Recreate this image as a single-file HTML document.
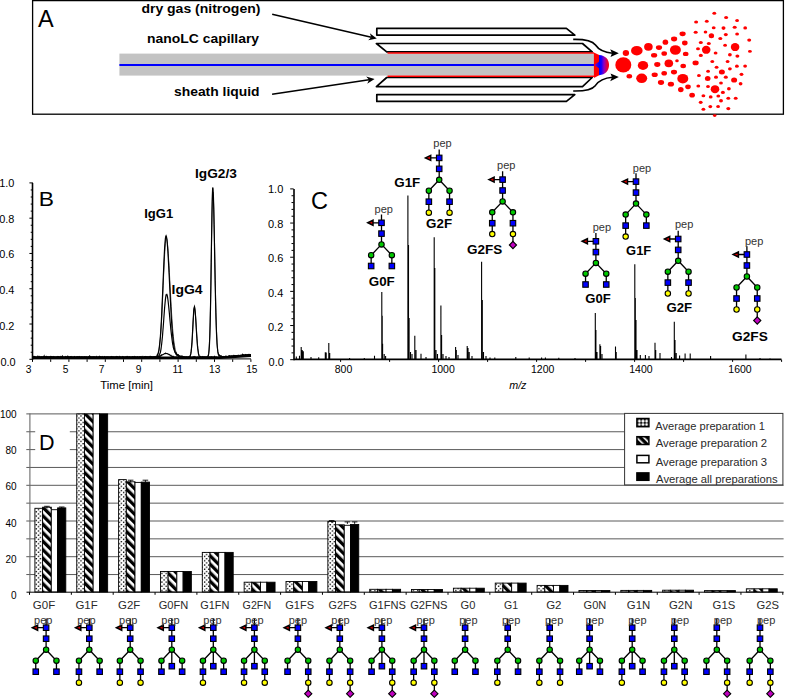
<!DOCTYPE html>
<html><head><meta charset="utf-8"><style>
html,body{margin:0;padding:0;background:#fff;}
svg{display:block;}
text{font-family:"Liberation Sans",sans-serif;}
</style></head><body>
<svg width="785" height="698" viewBox="0 0 785 698">
<rect width="785" height="698" fill="#fff"/>
<rect x="32.6" y="0.6" width="750.8" height="113.6" fill="none" stroke="#000" stroke-width="1.3"/>
<text x="38.0" y="27.1" font-size="23.5" font-weight="normal" text-anchor="start" fill="#000" >A</text>
<text x="141.4" y="12.9" font-size="13" font-weight="bold" text-anchor="start" fill="#000" textLength="119" lengthAdjust="spacingAndGlyphs" >dry gas (nitrogen)</text>
<text x="147.1" y="43.4" font-size="13" font-weight="bold" text-anchor="start" fill="#000" textLength="112" lengthAdjust="spacingAndGlyphs" >nanoLC capillary</text>
<text x="174" y="95.9" font-size="13" font-weight="bold" text-anchor="start" fill="#000" textLength="85.5" lengthAdjust="spacingAndGlyphs" >sheath liquid</text>
<rect x="119.4" y="53.6" width="474.6" height="22" fill="#c3c3c3"/>
<line x1="119.4" y1="65.0" x2="594" y2="65.0" stroke="#0000ff" stroke-width="2"/>
<path d="M376.8,28.4 L566.4,28.4 L574.8,35.1 L376.8,35.1 Z" fill="none" stroke="#000" stroke-width="1.7" stroke-linejoin="round"/>
<path d="M376.8,94.6 L574.8,94.6 L566.4,101.4 L376.8,101.4 Z" fill="none" stroke="#000" stroke-width="1.7" stroke-linejoin="round"/>
<path d="M376.4,43.5 L582.5,43.5 L592.2,51.9 L386.7,51.9 Z" fill="none" stroke="#000" stroke-width="1.7" stroke-linejoin="round"/>
<path d="M386.7,77.5 L592.2,77.5 L582.5,86.6 L376.4,86.6 Z" fill="none" stroke="#000" stroke-width="1.7" stroke-linejoin="round"/>
<line x1="387.5" y1="53.1" x2="594" y2="53.1" stroke="#ff0000" stroke-width="1.5"/>
<line x1="387.5" y1="76.2" x2="594" y2="76.2" stroke="#ff0000" stroke-width="1.5"/>
<defs><linearGradient id="tipg" x1="0" x2="1" y1="0" y2="0"><stop offset="0" stop-color="#0000ff"/><stop offset="0.22" stop-color="#1000ff"/><stop offset="0.5" stop-color="#9000c0"/><stop offset="0.8" stop-color="#e00040"/><stop offset="1" stop-color="#ff0000"/></linearGradient><linearGradient id="notchg" x1="0" x2="1" y1="0" y2="0"><stop offset="0" stop-color="#a000a0"/><stop offset="1" stop-color="#0000ff"/></linearGradient></defs>
<path d="M593.9,52.4 L599.2,55 L599.2,75.2 L593.9,78 Z" fill="#ff0000"/>
<path d="M599,55 C605.5,55.4 609,59.5 609,65 C609,70.5 605.5,74.6 599,75.2 Z" fill="url(#tipg)"/>
<path d="M599.3,61.5 L594.4,65.1 L599.3,68.4 Z" fill="url(#notchg)"/>
<line x1="272.2" y1="14.3" x2="371.34" y2="37.24" stroke="#000" stroke-width="1.5"/>
<path d="M376.8,38.5 L368.19,40.20 L371.34,37.24 L369.82,33.19 Z" fill="#000"/>
<line x1="272.1" y1="94.3" x2="369.06" y2="79.83" stroke="#000" stroke-width="1.5"/>
<path d="M374.6,79.0 L367.22,83.74 L369.06,79.83 L366.16,76.62 Z" fill="#000"/>
<path d="M573.2,39.4 C583,39.2 592,40.5 595.5,45 C598.5,49.5 603,52.4 612.5,53.2" fill="none" stroke="#000" stroke-width="1.6"/>
<path d="M618.8,53.3 L610.2,49.2 L612,53.2 L610.5,56.9 Z" fill="#000"/>
<path d="M573.2,91.0 C583,91.2 592,89.9 595.5,85.4 C598.5,80.9 603,78.0 612.5,77.2" fill="none" stroke="#000" stroke-width="1.6"/>
<path d="M618.8,77.1 L610.2,81.2 L612,77.2 L610.5,73.5 Z" fill="#000"/>
<g fill="#ff0000"><ellipse cx="623.3" cy="64.9" rx="8" ry="7.6"/><ellipse cx="625.9" cy="53.0" rx="3.2" ry="2.9"/><ellipse cx="629.3" cy="76.3" rx="2.8" ry="2.2"/><ellipse cx="636.8" cy="50.7" rx="5.8" ry="4.8"/><ellipse cx="643" cy="65.4" rx="5.2" ry="4.5"/><ellipse cx="641.7" cy="78.3" rx="5.5" ry="4.8"/><ellipse cx="648.4" cy="46.8" rx="4.3" ry="3.9"/><ellipse cx="654.1" cy="55.3" rx="3.1" ry="2.3"/><ellipse cx="659" cy="47.6" rx="3.1" ry="2.4"/><ellipse cx="657.3" cy="64.5" rx="3.1" ry="2.4"/><ellipse cx="654.7" cy="74.8" rx="3.1" ry="2.3"/><ellipse cx="661" cy="82.5" rx="3.1" ry="2.4"/><ellipse cx="664.2" cy="53.5" rx="2.8" ry="2.3"/><ellipse cx="665.4" cy="42.2" rx="2.8" ry="2.6"/><ellipse cx="668.8" cy="63.3" rx="4.3" ry="3.9"/><ellipse cx="664.2" cy="73.2" rx="2.8" ry="2.3"/><ellipse cx="670.9" cy="84.2" rx="3.1" ry="2.4"/><ellipse cx="674.1" cy="39" rx="3.1" ry="2.4"/><ellipse cx="675.4" cy="50" rx="5.5" ry="4.8"/><ellipse cx="677" cy="60.7" rx="1.8" ry="1.5"/><ellipse cx="674" cy="72.1" rx="3.1" ry="2.3"/><ellipse cx="682.8" cy="78.7" rx="5.5" ry="4.8"/><ellipse cx="682.6" cy="33.8" rx="3.1" ry="2.4"/><ellipse cx="684.8" cy="43" rx="2.8" ry="2.4"/><ellipse cx="685.7" cy="53.9" rx="2.8" ry="2.2"/><ellipse cx="683.2" cy="66" rx="2.8" ry="2.2"/><ellipse cx="680.8" cy="89.6" rx="2.8" ry="2.6"/><ellipse cx="688" cy="86.8" rx="2.8" ry="2.4"/><ellipse cx="692.1" cy="95.2" rx="2.8" ry="2.4"/><ellipse cx="695.6" cy="62.9" rx="3.1" ry="2.4"/><ellipse cx="695.7" cy="32.2" rx="2" ry="1.5"/><ellipse cx="696.1" cy="21.9" rx="2" ry="1.5"/><ellipse cx="714.3" cy="13.2" rx="1.9" ry="1.5"/><ellipse cx="726.1" cy="17.5" rx="2" ry="1.5"/><ellipse cx="737.1" cy="20.5" rx="1.9" ry="1.6"/><ellipse cx="706.8" cy="21.3" rx="1.9" ry="1.5"/><ellipse cx="713.7" cy="27.8" rx="1.9" ry="1.5"/><ellipse cx="723.5" cy="28.1" rx="2" ry="1.8"/><ellipse cx="734.7" cy="27.3" rx="2" ry="1.5"/><ellipse cx="745.2" cy="27.9" rx="1.9" ry="1.7"/><ellipse cx="705.5" cy="32.1" rx="1.8" ry="1.5"/><ellipse cx="711.4" cy="35.7" rx="2.7" ry="2.5"/><ellipse cx="725.8" cy="34.6" rx="2" ry="1.7"/><ellipse cx="737.1" cy="34.1" rx="1.9" ry="1.5"/><ellipse cx="720.3" cy="38.4" rx="2" ry="1.5"/><ellipse cx="749.2" cy="40.1" rx="2" ry="1.7"/><ellipse cx="700.8" cy="42.4" rx="2" ry="1.5"/><ellipse cx="708.8" cy="43.4" rx="2" ry="1.5"/><ellipse cx="725.1" cy="45.3" rx="1.9" ry="1.5"/><ellipse cx="735.1" cy="47.1" rx="4.3" ry="4"/><ellipse cx="698" cy="48.8" rx="2" ry="1.5"/><ellipse cx="706.2" cy="49.8" rx="4.3" ry="4"/><ellipse cx="715.6" cy="52.9" rx="1.9" ry="1.5"/><ellipse cx="749.9" cy="51.4" rx="1.9" ry="1.4"/><ellipse cx="700.8" cy="55.4" rx="2" ry="1.7"/><ellipse cx="729.9" cy="54.8" rx="1.9" ry="1.7"/><ellipse cx="737.4" cy="56.1" rx="2" ry="1.6"/><ellipse cx="712.3" cy="61.5" rx="1.9" ry="1.5"/><ellipse cx="727.6" cy="61.4" rx="1.9" ry="1.5"/><ellipse cx="716.6" cy="67.3" rx="1.9" ry="1.5"/><ellipse cx="736.9" cy="66.2" rx="1.9" ry="1.6"/><ellipse cx="745.1" cy="66.1" rx="1.9" ry="1.6"/><ellipse cx="708.1" cy="71.2" rx="1.9" ry="1.5"/><ellipse cx="721.9" cy="72.1" rx="3" ry="2.5"/><ellipse cx="729.9" cy="68.8" rx="1.9" ry="1.6"/><ellipse cx="698.9" cy="75.4" rx="1.9" ry="1.5"/><ellipse cx="741.5" cy="74.3" rx="1.9" ry="1.6"/><ellipse cx="707.7" cy="78.5" rx="2.8" ry="2.5"/><ellipse cx="716" cy="77.2" rx="2" ry="1.6"/><ellipse cx="725.8" cy="77.2" rx="2" ry="1.6"/><ellipse cx="734.1" cy="80" rx="3" ry="2.6"/><ellipse cx="721" cy="83" rx="1.9" ry="1.6"/><ellipse cx="740.6" cy="83.7" rx="1.9" ry="1.7"/><ellipse cx="698.3" cy="86" rx="1.9" ry="1.6"/><ellipse cx="708" cy="86.4" rx="1.9" ry="1.5"/><ellipse cx="715" cy="89.2" rx="4.3" ry="4"/><ellipse cx="728.9" cy="88.8" rx="1.9" ry="1.7"/><ellipse cx="722.9" cy="92.4" rx="2" ry="1.7"/><ellipse cx="703.4" cy="95.8" rx="1.9" ry="1.5"/><ellipse cx="710.7" cy="96.9" rx="1.9" ry="1.6"/><ellipse cx="718.3" cy="95.9" rx="1.9" ry="1.5"/><ellipse cx="728.3" cy="98.2" rx="1.9" ry="1.5"/><ellipse cx="735.7" cy="98.2" rx="1.9" ry="1.5"/><ellipse cx="721" cy="100.8" rx="2" ry="1.7"/><ellipse cx="700.7" cy="102.3" rx="1.9" ry="1.6"/><ellipse cx="710.3" cy="106.6" rx="1.9" ry="1.6"/><ellipse cx="718.1" cy="106.5" rx="1.9" ry="1.6"/><ellipse cx="728.3" cy="108.6" rx="2" ry="1.7"/><ellipse cx="703.4" cy="109.3" rx="1.9" ry="1.5"/><ellipse cx="714.7" cy="115.6" rx="1.8" ry="1.4"/></g>
<line x1="32.5" y1="182.9" x2="32.5" y2="359.90000000000003" stroke="#000" stroke-width="1.6"/>
<path d="M29.4,359.30H32.9 M30.7,352.24H32.9 M30.7,345.19H32.9 M30.7,338.13H32.9 M30.7,331.08H32.9 M29.4,324.02H32.9 M30.7,316.96H32.9 M30.7,309.91H32.9 M30.7,302.85H32.9 M30.7,295.80H32.9 M29.4,288.74H32.9 M30.7,281.68H32.9 M30.7,274.63H32.9 M30.7,267.57H32.9 M30.7,260.52H32.9 M29.4,253.46H32.9 M30.7,246.40H32.9 M30.7,239.35H32.9 M30.7,232.29H32.9 M30.7,225.24H32.9 M29.4,218.18H32.9 M30.7,211.12H32.9 M30.7,204.07H32.9 M30.7,197.01H32.9 M30.7,189.96H32.9 M29.4,182.90H32.9 M32.50,359.3V361.90000000000003 M50.70,359.3V361.90000000000003 M68.90,359.3V361.90000000000003 M87.10,359.3V361.90000000000003 M105.30,359.3V361.90000000000003 M123.50,359.3V361.90000000000003 M141.70,359.3V361.90000000000003 M159.90,359.3V361.90000000000003 M178.10,359.3V361.90000000000003 M196.30,359.3V361.90000000000003 M214.50,359.3V361.90000000000003 M232.70,359.3V361.90000000000003 M250.90,359.3V361.90000000000003" stroke="#000" stroke-width="1"/>
<text x="-0.7999999999999989" y="186.89999999999998" font-size="10.3" font-weight="normal" text-anchor="start" fill="#000" textLength="15.2" lengthAdjust="spacingAndGlyphs" >1.0</text>
<text x="-0.7999999999999989" y="222.64" font-size="10.3" font-weight="normal" text-anchor="start" fill="#000" textLength="15.2" lengthAdjust="spacingAndGlyphs" >0.8</text>
<text x="-0.7999999999999989" y="258.38" font-size="10.3" font-weight="normal" text-anchor="start" fill="#000" textLength="15.2" lengthAdjust="spacingAndGlyphs" >0.6</text>
<text x="-0.7999999999999989" y="294.11999999999995" font-size="10.3" font-weight="normal" text-anchor="start" fill="#000" textLength="15.2" lengthAdjust="spacingAndGlyphs" >0.4</text>
<text x="-0.7999999999999989" y="329.85999999999996" font-size="10.3" font-weight="normal" text-anchor="start" fill="#000" textLength="15.2" lengthAdjust="spacingAndGlyphs" >0.2</text>
<text x="0.40000000000000036" y="365.59999999999997" font-size="10.3" font-weight="normal" text-anchor="start" fill="#000" textLength="15.2" lengthAdjust="spacingAndGlyphs" >0.0</text>
<text x="28.6" y="373" font-size="10.2" font-weight="normal" text-anchor="middle" fill="#000" >3</text>
<text x="65.5" y="373" font-size="10.2" font-weight="normal" text-anchor="middle" fill="#000" >5</text>
<text x="101.7" y="373" font-size="10.2" font-weight="normal" text-anchor="middle" fill="#000" >7</text>
<text x="138.6" y="373" font-size="10.2" font-weight="normal" text-anchor="middle" fill="#000" >9</text>
<text x="177.7" y="373" font-size="10.2" font-weight="normal" text-anchor="middle" fill="#000" >11</text>
<text x="214.7" y="373" font-size="10.2" font-weight="normal" text-anchor="middle" fill="#000" >13</text>
<text x="251.8" y="373" font-size="10.2" font-weight="normal" text-anchor="middle" fill="#000" >15</text>
<text x="100.3" y="389" font-size="10.5" font-weight="normal" text-anchor="start" fill="#000" textLength="52.6" lengthAdjust="spacingAndGlyphs" >Time [min]</text>
<text x="38.8" y="206" font-size="21" font-weight="normal" text-anchor="start" fill="#000" textLength="15.2" lengthAdjust="spacingAndGlyphs" >B</text>
<path d="M32.50,357.36 L32.86,356.90 L33.23,357.26 L33.59,357.51 L33.96,357.02 L34.32,357.53 L34.68,356.95 L35.05,357.43 L35.41,357.11 L35.78,357.10 L36.14,357.45 L36.50,356.91 L36.87,357.49 L37.23,357.17 L37.60,357.02 L37.96,357.41 L38.32,357.38 L38.69,357.12 L39.05,357.44 L39.42,357.28 L39.78,357.36 L40.14,357.03 L40.51,357.36 L40.87,357.27 L41.24,357.01 L41.60,357.19 L41.96,357.41 L42.33,357.18 L42.69,357.34 L43.06,357.41 L43.42,357.34 L43.78,357.32 L44.15,357.09 L44.51,357.39 L44.88,357.38 L45.24,357.05 L45.60,357.01 L45.97,356.91 L46.33,357.18 L46.70,357.31 L47.06,357.20 L47.42,357.11 L47.79,357.21 L48.15,356.63 L48.52,357.21 L48.88,357.48 L49.24,357.29 L49.61,357.36 L49.97,357.41 L50.34,357.45 L50.70,357.22 L51.06,357.24 L51.43,357.15 L51.79,357.19 L52.16,357.45 L52.52,357.32 L52.88,357.34 L53.25,357.52 L53.61,357.36 L53.98,356.85 L54.34,357.52 L54.70,357.48 L55.07,357.52 L55.43,357.47 L55.80,357.16 L56.16,356.87 L56.52,357.32 L56.89,357.33 L57.25,357.28 L57.62,357.29 L57.98,356.49 L58.34,356.46 L58.71,357.19 L59.07,357.41 L59.44,357.53 L59.80,357.18 L60.16,357.27 L60.53,357.50 L60.89,356.80 L61.26,357.44 L61.62,357.18 L61.98,356.89 L62.35,356.91 L62.71,357.32 L63.08,357.41 L63.44,357.13 L63.80,356.99 L64.17,357.44 L64.53,357.41 L64.90,357.46 L65.26,357.53 L65.62,357.26 L65.99,356.92 L66.35,357.49 L66.72,357.50 L67.08,357.47 L67.44,357.20 L67.81,357.21 L68.17,357.36 L68.54,357.33 L68.90,356.76 L69.26,357.29 L69.63,357.53 L69.99,357.17 L70.36,357.18 L70.72,357.20 L71.08,357.49 L71.45,357.14 L71.81,357.34 L72.18,357.51 L72.54,357.32 L72.90,357.33 L73.27,357.43 L73.63,357.24 L74.00,357.03 L74.36,356.75 L74.72,357.23 L75.09,357.38 L75.45,357.29 L75.82,357.35 L76.18,357.21 L76.54,357.29 L76.91,357.31 L77.27,356.74 L77.64,357.53 L78.00,357.50 L78.36,357.42 L78.73,357.50 L79.09,356.94 L79.46,357.42 L79.82,357.11 L80.18,357.17 L80.55,357.00 L80.91,356.90 L81.28,357.46 L81.64,357.44 L82.00,357.23 L82.37,356.73 L82.73,357.26 L83.10,357.29 L83.46,357.41 L83.82,356.90 L84.19,357.14 L84.55,357.52 L84.92,357.27 L85.28,357.34 L85.64,357.23 L86.01,357.15 L86.37,357.38 L86.74,357.41 L87.10,357.43 L87.46,357.42 L87.83,357.14 L88.19,357.22 L88.56,356.80 L88.92,357.36 L89.28,357.16 L89.65,357.14 L90.01,357.07 L90.38,357.06 L90.74,357.11 L91.10,357.29 L91.47,356.88 L91.83,357.13 L92.20,357.23 L92.56,357.30 L92.92,357.32 L93.29,356.95 L93.65,356.99 L94.02,356.89 L94.38,357.22 L94.74,357.33 L95.11,357.47 L95.47,357.16 L95.84,357.44 L96.20,356.99 L96.56,356.95 L96.93,357.29 L97.29,357.25 L97.66,357.50 L98.02,357.40 L98.38,357.48 L98.75,357.36 L99.11,357.31 L99.48,357.17 L99.84,357.46 L100.20,357.46 L100.57,357.49 L100.93,356.98 L101.30,357.20 L101.66,357.25 L102.02,357.20 L102.39,357.32 L102.75,357.49 L103.12,357.46 L103.48,357.45 L103.84,356.94 L104.21,357.51 L104.57,357.02 L104.94,357.37 L105.30,357.46 L105.66,357.42 L106.03,357.52 L106.39,357.36 L106.76,357.16 L107.12,357.42 L107.48,357.40 L107.85,357.53 L108.21,357.15 L108.58,357.34 L108.94,357.11 L109.30,357.45 L109.67,357.37 L110.03,357.30 L110.40,357.27 L110.76,357.16 L111.12,357.34 L111.49,357.37 L111.85,357.46 L112.22,357.09 L112.58,357.22 L112.94,357.34 L113.31,357.38 L113.67,357.27 L114.04,357.51 L114.40,357.08 L114.76,357.43 L115.13,357.09 L115.49,357.42 L115.86,357.25 L116.22,357.26 L116.58,357.28 L116.95,356.56 L117.31,356.80 L117.68,357.04 L118.04,357.37 L118.40,357.43 L118.77,357.04 L119.13,357.42 L119.50,357.22 L119.86,357.06 L120.22,356.72 L120.59,357.28 L120.95,357.11 L121.32,357.44 L121.68,357.45 L122.04,356.96 L122.41,357.39 L122.77,357.12 L123.14,357.17 L123.50,357.26 L123.86,357.34 L124.23,357.10 L124.59,357.45 L124.96,357.48 L125.32,357.29 L125.68,356.80 L126.05,357.22 L126.41,357.43 L126.78,357.15 L127.14,357.42 L127.50,356.84 L127.87,357.28 L128.23,357.08 L128.60,357.41 L128.96,357.42 L129.32,357.42 L129.69,357.52 L130.05,357.02 L130.42,357.25 L130.78,357.28 L131.14,357.03 L131.51,357.37 L131.87,357.30 L132.24,357.31 L132.60,357.45 L132.96,357.15 L133.33,357.06 L133.69,357.48 L134.06,357.30 L134.42,357.31 L134.78,357.39 L135.15,357.39 L135.51,356.97 L135.88,356.98 L136.24,357.52 L136.60,357.29 L136.97,356.98 L137.33,357.14 L137.70,357.27 L138.06,357.21 L138.42,357.47 L138.79,356.90 L139.15,356.96 L139.52,356.75 L139.88,357.40 L140.24,357.18 L140.61,357.41 L140.97,357.48 L141.34,357.44 L141.70,357.50 L142.06,357.50 L142.43,357.51 L142.79,357.53 L143.16,357.46 L143.52,357.40 L143.88,357.30 L144.25,357.38 L144.61,357.29 L144.98,357.26 L145.34,357.13 L145.70,356.65 L146.07,357.18 L146.43,357.22 L146.80,357.08 L147.16,357.34 L147.52,357.26 L147.89,357.50 L148.25,357.05 L148.62,356.98 L148.98,357.40 L149.34,357.18 L149.71,357.37 L150.07,357.10 L150.44,356.93 L150.80,357.33 L151.16,357.36 L151.53,357.52 L151.89,357.20 L152.26,357.31 L152.62,357.25 L152.98,357.19 L153.35,357.30 L153.71,356.90 L154.08,356.82 L154.44,357.33 L154.80,357.25 L155.17,357.23 L155.53,356.63 L155.90,356.76 L156.26,356.71 L156.62,356.37 L156.99,356.22 L157.35,355.49 L157.72,354.47 L158.08,353.48 L158.44,352.70 L158.81,351.07 L159.17,348.99 L159.54,346.35 L159.90,342.93 L160.26,339.18 L160.63,335.02 L160.99,329.92 L161.36,323.95 L161.72,317.36 L162.08,309.67 L162.45,302.08 L162.81,293.37 L163.18,285.71 L163.54,276.77 L163.90,269.10 L164.27,261.13 L164.63,254.48 L165.00,247.86 L165.36,243.78 L165.72,239.88 L166.09,238.29 L166.45,238.06 L166.82,238.89 L167.18,241.33 L167.54,244.60 L167.91,248.45 L168.27,253.51 L168.64,259.49 L169.00,265.61 L169.36,272.32 L169.73,279.43 L170.09,286.24 L170.46,292.90 L170.82,299.46 L171.18,306.35 L171.55,312.96 L171.91,318.66 L172.28,323.99 L172.64,328.74 L173.00,333.09 L173.37,336.22 L173.73,340.21 L174.10,342.98 L174.46,345.16 L174.82,347.22 L175.19,349.45 L175.55,350.55 L175.92,351.77 L176.28,352.83 L176.64,353.35 L177.01,354.45 L177.37,354.65 L177.74,355.35 L178.10,355.47 L178.46,356.16 L178.83,356.24 L179.19,356.52 L179.56,356.10 L179.92,356.95 L180.28,355.96 L180.65,356.94 L181.01,357.10 L181.38,357.24 L181.74,357.24 L182.10,356.81 L182.47,357.03 L182.83,357.10 L183.20,356.91 L183.56,357.06 L183.92,357.01 L184.29,357.01 L184.65,357.19 L185.02,357.09 L185.38,357.16 L185.74,357.45 L186.11,357.09 L186.47,357.47 L186.84,357.44 L187.20,357.39 L187.56,357.47 L187.93,357.50 L188.29,356.57 L188.66,357.43 L189.02,357.21 L189.38,356.86 L189.75,356.75 L190.11,356.26 L190.48,355.19 L190.84,353.20 L191.20,350.74 L191.57,348.03 L191.93,343.35 L192.30,337.94 L192.66,331.33 L193.02,324.78 L193.39,317.68 L193.75,312.79 L194.12,308.45 L194.48,307.85 L194.84,309.10 L195.21,311.84 L195.57,316.27 L195.94,321.15 L196.30,327.56 L196.66,333.47 L197.03,338.70 L197.39,343.52 L197.76,347.55 L198.12,350.80 L198.48,353.09 L198.85,354.75 L199.21,355.78 L199.58,356.27 L199.94,356.92 L200.30,357.14 L200.67,357.31 L201.03,356.92 L201.40,357.32 L201.76,357.35 L202.12,357.46 L202.49,357.06 L202.85,356.93 L203.22,357.15 L203.58,357.39 L203.94,357.36 L204.31,357.21 L204.67,356.80 L205.04,357.47 L205.40,357.19 L205.76,357.21 L206.13,357.43 L206.49,357.42 L206.86,357.32 L207.22,356.90 L207.58,356.84 L207.95,356.11 L208.31,355.01 L208.68,353.21 L209.04,349.20 L209.40,343.50 L209.77,335.02 L210.13,322.18 L210.50,305.52 L210.86,285.76 L211.22,262.60 L211.59,239.11 L211.95,218.01 L212.32,201.43 L212.68,192.71 L213.04,192.03 L213.41,198.33 L213.77,209.33 L214.14,224.63 L214.50,242.61 L214.86,261.25 L215.23,280.27 L215.59,297.29 L215.96,312.68 L216.32,325.27 L216.68,334.81 L217.05,342.23 L217.41,347.58 L217.78,351.41 L218.14,353.88 L218.50,355.40 L218.87,356.32 L219.23,356.59 L219.60,356.84 L219.96,357.06 L220.32,357.09 L220.69,356.99 L221.05,357.42 L221.42,357.13 L221.78,356.82 L222.14,357.34 L222.51,357.13 L222.87,357.14 L223.24,357.16 L223.60,357.23 L223.96,356.50 L224.33,357.12 L224.69,356.81 L225.06,356.62 L225.42,356.65 L225.78,356.53 L226.15,356.91 L226.51,356.92 L226.88,356.93 L227.24,356.77 L227.60,356.66 L227.97,356.66 L228.33,356.73 L228.70,356.83 L229.06,356.77 L229.42,356.56 L229.79,356.65 L230.15,356.60 L230.52,356.45 L230.88,356.63 L231.24,356.46 L231.61,356.28 L231.97,356.41 L232.34,356.09 L232.70,356.21 L233.06,356.47 L233.43,356.29 L233.79,356.28 L234.16,356.33 L234.52,356.22 L234.88,356.25 L235.25,356.15 L235.61,356.23 L235.98,355.93 L236.34,355.76 L236.70,356.00 L237.07,355.77 L237.43,355.88 L237.80,355.84 L238.16,355.35 L238.52,356.03 L238.89,355.67 L239.25,355.63 L239.62,355.69 L239.98,355.57 L240.34,355.56 L240.71,355.60 L241.07,355.66 L241.44,355.55 L241.80,355.79 L242.16,355.47 L242.53,355.55 L242.89,355.35 L243.26,355.25 L243.62,355.11 L243.98,355.07 L244.35,355.19 L244.71,355.31 L245.08,355.37 L245.44,355.06 L245.80,355.31 L246.17,355.42 L246.53,355.26 L246.90,355.25 L247.26,354.89 L247.62,355.08 L247.99,354.99 L248.35,355.21 L248.72,353.92 L249.08,354.81 L249.44,354.45 L249.81,355.10 L250.17,354.81 L250.54,354.84 L250.90,354.74" fill="none" stroke="#333" stroke-width="0.9"/>
<path d="M32.50,357.12 L32.86,357.13 L33.23,357.30 L33.59,356.73 L33.96,357.49 L34.32,356.74 L34.68,357.15 L35.05,357.46 L35.41,357.06 L35.78,357.36 L36.14,357.40 L36.50,357.44 L36.87,357.28 L37.23,357.48 L37.60,357.09 L37.96,357.41 L38.32,357.29 L38.69,357.52 L39.05,357.39 L39.42,356.76 L39.78,357.52 L40.14,357.33 L40.51,357.48 L40.87,357.35 L41.24,357.40 L41.60,357.41 L41.96,356.82 L42.33,357.53 L42.69,357.47 L43.06,357.30 L43.42,356.82 L43.78,357.46 L44.15,357.32 L44.51,356.66 L44.88,357.02 L45.24,357.41 L45.60,357.30 L45.97,356.73 L46.33,357.20 L46.70,356.68 L47.06,357.30 L47.42,357.35 L47.79,357.40 L48.15,357.37 L48.52,357.46 L48.88,357.43 L49.24,357.38 L49.61,357.08 L49.97,357.01 L50.34,357.52 L50.70,357.38 L51.06,357.28 L51.43,357.37 L51.79,357.17 L52.16,357.37 L52.52,357.17 L52.88,357.50 L53.25,357.42 L53.61,357.46 L53.98,357.52 L54.34,357.54 L54.70,356.85 L55.07,356.92 L55.43,357.47 L55.80,357.23 L56.16,357.19 L56.52,357.43 L56.89,357.53 L57.25,357.17 L57.62,356.74 L57.98,357.34 L58.34,356.98 L58.71,356.77 L59.07,357.18 L59.44,357.35 L59.80,357.26 L60.16,356.93 L60.53,357.44 L60.89,357.08 L61.26,357.17 L61.62,357.33 L61.98,356.87 L62.35,356.71 L62.71,357.34 L63.08,357.27 L63.44,357.36 L63.80,356.93 L64.17,357.03 L64.53,357.11 L64.90,356.86 L65.26,357.24 L65.62,357.45 L65.99,357.45 L66.35,357.33 L66.72,357.36 L67.08,357.44 L67.44,357.09 L67.81,356.43 L68.17,357.48 L68.54,357.44 L68.90,357.10 L69.26,357.50 L69.63,357.32 L69.99,357.39 L70.36,356.99 L70.72,357.17 L71.08,357.18 L71.45,357.43 L71.81,356.80 L72.18,357.27 L72.54,357.13 L72.90,357.45 L73.27,357.44 L73.63,357.38 L74.00,357.44 L74.36,356.68 L74.72,357.11 L75.09,357.08 L75.45,357.24 L75.82,357.30 L76.18,357.13 L76.54,356.99 L76.91,357.43 L77.27,357.16 L77.64,356.85 L78.00,357.53 L78.36,357.15 L78.73,357.48 L79.09,356.97 L79.46,357.49 L79.82,357.25 L80.18,357.50 L80.55,357.37 L80.91,357.42 L81.28,356.78 L81.64,356.80 L82.00,357.06 L82.37,357.41 L82.73,357.22 L83.10,357.53 L83.46,357.30 L83.82,357.39 L84.19,357.39 L84.55,356.84 L84.92,357.14 L85.28,357.06 L85.64,357.45 L86.01,357.00 L86.37,357.23 L86.74,357.03 L87.10,357.18 L87.46,357.12 L87.83,357.46 L88.19,357.14 L88.56,357.47 L88.92,357.00 L89.28,357.30 L89.65,356.72 L90.01,357.26 L90.38,357.16 L90.74,357.09 L91.10,357.50 L91.47,357.53 L91.83,357.01 L92.20,356.90 L92.56,357.39 L92.92,357.16 L93.29,357.03 L93.65,357.24 L94.02,357.12 L94.38,357.49 L94.74,356.88 L95.11,357.14 L95.47,356.99 L95.84,357.17 L96.20,357.14 L96.56,356.66 L96.93,357.40 L97.29,357.11 L97.66,357.49 L98.02,357.20 L98.38,356.96 L98.75,357.16 L99.11,357.38 L99.48,357.33 L99.84,357.01 L100.20,357.51 L100.57,357.32 L100.93,357.45 L101.30,357.08 L101.66,357.35 L102.02,357.22 L102.39,357.10 L102.75,357.11 L103.12,357.17 L103.48,357.11 L103.84,357.33 L104.21,357.50 L104.57,357.06 L104.94,357.35 L105.30,357.43 L105.66,357.01 L106.03,357.47 L106.39,357.46 L106.76,357.29 L107.12,357.49 L107.48,357.36 L107.85,357.47 L108.21,357.44 L108.58,357.33 L108.94,357.50 L109.30,357.45 L109.67,357.20 L110.03,357.46 L110.40,357.18 L110.76,357.23 L111.12,357.48 L111.49,356.78 L111.85,357.18 L112.22,357.53 L112.58,357.47 L112.94,357.18 L113.31,357.04 L113.67,357.10 L114.04,357.47 L114.40,357.47 L114.76,357.42 L115.13,357.43 L115.49,357.23 L115.86,357.45 L116.22,356.76 L116.58,357.10 L116.95,357.38 L117.31,357.20 L117.68,357.34 L118.04,357.07 L118.40,357.40 L118.77,357.39 L119.13,357.16 L119.50,357.28 L119.86,356.64 L120.22,357.29 L120.59,357.28 L120.95,357.33 L121.32,357.52 L121.68,357.53 L122.04,357.18 L122.41,357.25 L122.77,357.39 L123.14,357.41 L123.50,357.03 L123.86,357.00 L124.23,357.27 L124.59,357.27 L124.96,357.49 L125.32,357.25 L125.68,357.20 L126.05,357.48 L126.41,356.78 L126.78,357.35 L127.14,357.31 L127.50,357.38 L127.87,357.13 L128.23,357.49 L128.60,357.27 L128.96,357.38 L129.32,357.13 L129.69,357.50 L130.05,357.44 L130.42,357.14 L130.78,357.18 L131.14,357.20 L131.51,357.26 L131.87,357.43 L132.24,357.41 L132.60,356.89 L132.96,357.10 L133.33,357.50 L133.69,357.41 L134.06,356.72 L134.42,357.48 L134.78,357.28 L135.15,357.51 L135.51,357.33 L135.88,357.24 L136.24,357.52 L136.60,357.22 L136.97,357.28 L137.33,357.24 L137.70,357.16 L138.06,357.53 L138.42,357.36 L138.79,357.52 L139.15,357.24 L139.52,357.22 L139.88,357.47 L140.24,357.41 L140.61,357.12 L140.97,357.21 L141.34,357.46 L141.70,357.52 L142.06,357.06 L142.43,357.27 L142.79,357.47 L143.16,356.78 L143.52,357.32 L143.88,357.20 L144.25,357.25 L144.61,356.93 L144.98,357.48 L145.34,357.12 L145.70,357.33 L146.07,357.41 L146.43,357.05 L146.80,356.76 L147.16,357.45 L147.52,357.27 L147.89,357.30 L148.25,357.40 L148.62,357.35 L148.98,357.34 L149.34,356.90 L149.71,356.92 L150.07,357.27 L150.44,357.41 L150.80,357.18 L151.16,357.40 L151.53,356.94 L151.89,357.37 L152.26,357.43 L152.62,357.09 L152.98,357.47 L153.35,357.21 L153.71,357.52 L154.08,357.25 L154.44,357.12 L154.80,357.45 L155.17,357.36 L155.53,357.39 L155.90,356.80 L156.26,357.29 L156.62,356.88 L156.99,356.79 L157.35,357.20 L157.72,355.98 L158.08,356.98 L158.44,357.03 L158.81,356.85 L159.17,356.70 L159.54,356.49 L159.90,356.01 L160.26,355.68 L160.63,356.14 L160.99,355.79 L161.36,355.55 L161.72,354.77 L162.08,355.01 L162.45,354.67 L162.81,354.65 L163.18,354.50 L163.54,354.32 L163.90,354.13 L164.27,353.76 L164.63,353.67 L165.00,353.67 L165.36,353.65 L165.72,353.14 L166.09,353.40 L166.45,353.56 L166.82,353.64 L167.18,353.61 L167.54,353.90 L167.91,353.87 L168.27,354.15 L168.64,354.29 L169.00,354.70 L169.36,354.55 L169.73,355.11 L170.09,355.24 L170.46,355.35 L170.82,355.20 L171.18,356.15 L171.55,355.91 L171.91,356.38 L172.28,356.66 L172.64,356.39 L173.00,356.94 L173.37,356.47 L173.73,356.96 L174.10,357.21 L174.46,357.26 L174.82,357.00 L175.19,357.37 L175.55,357.20 L175.92,357.33 L176.28,356.97 L176.64,357.04 L177.01,357.23 L177.37,357.36 L177.74,357.42 L178.10,357.31 L178.46,357.38 L178.83,357.24 L179.19,357.25 L179.56,357.25 L179.92,356.97 L180.28,356.98 L180.65,357.43 L181.01,357.34 L181.38,357.47 L181.74,357.03 L182.10,357.38 L182.47,357.51 L182.83,357.36 L183.20,357.02 L183.56,357.45 L183.92,357.45 L184.29,357.36 L184.65,357.30 L185.02,357.30 L185.38,357.51 L185.74,357.22 L186.11,357.29 L186.47,357.32 L186.84,357.39 L187.20,357.41 L187.56,357.29 L187.93,357.09 L188.29,357.41 L188.66,357.18 L189.02,357.28 L189.38,357.19 L189.75,357.15 L190.11,357.28 L190.48,357.51 L190.84,357.18 L191.20,357.46 L191.57,357.48 L191.93,357.51 L192.30,357.44 L192.66,357.23 L193.02,357.28 L193.39,357.54 L193.75,357.53 L194.12,356.81 L194.48,357.40 L194.84,357.26 L195.21,357.28 L195.57,357.38 L195.94,357.50 L196.30,357.42 L196.66,357.36 L197.03,357.29 L197.39,357.29 L197.76,357.39 L198.12,357.40 L198.48,357.53 L198.85,357.25 L199.21,357.38 L199.58,357.29 L199.94,357.50 L200.30,357.13 L200.67,356.75 L201.03,357.38 L201.40,356.97 L201.76,356.93 L202.12,357.33 L202.49,357.05 L202.85,356.70 L203.22,357.39 L203.58,357.15 L203.94,357.18 L204.31,357.40 L204.67,357.02 L205.04,357.51 L205.40,357.33 L205.76,357.51 L206.13,357.46 L206.49,357.52 L206.86,357.39 L207.22,356.76 L207.58,356.98 L207.95,357.34 L208.31,357.31 L208.68,357.25 L209.04,357.48 L209.40,357.47 L209.77,356.98 L210.13,357.40 L210.50,357.31 L210.86,357.14 L211.22,356.80 L211.59,357.31 L211.95,357.24 L212.32,357.50 L212.68,357.53 L213.04,356.97 L213.41,357.31 L213.77,357.45 L214.14,357.48 L214.50,356.52 L214.86,357.22 L215.23,357.21 L215.59,357.50 L215.96,357.42 L216.32,357.46 L216.68,357.21 L217.05,357.29 L217.41,357.43 L217.78,357.49 L218.14,357.53 L218.50,357.42 L218.87,357.44 L219.23,357.46 L219.60,357.52 L219.96,357.18 L220.32,357.47 L220.69,357.37 L221.05,356.53 L221.42,357.20 L221.78,357.21 L222.14,356.98 L222.51,356.98 L222.87,357.05 L223.24,357.01 L223.60,357.09 L223.96,356.87 L224.33,356.91 L224.69,356.74 L225.06,356.90 L225.42,356.95 L225.78,356.88 L226.15,356.61 L226.51,356.97 L226.88,356.53 L227.24,356.92 L227.60,356.57 L227.97,356.55 L228.33,356.75 L228.70,356.07 L229.06,356.67 L229.42,356.42 L229.79,356.64 L230.15,356.50 L230.52,356.47 L230.88,356.46 L231.24,356.12 L231.61,356.29 L231.97,356.45 L232.34,356.27 L232.70,356.42 L233.06,356.38 L233.43,356.46 L233.79,356.28 L234.16,355.99 L234.52,356.17 L234.88,356.34 L235.25,356.19 L235.61,356.25 L235.98,356.15 L236.34,356.14 L236.70,355.92 L237.07,356.06 L237.43,356.03 L237.80,355.84 L238.16,355.94 L238.52,356.05 L238.89,355.58 L239.25,355.59 L239.62,355.65 L239.98,355.91 L240.34,355.45 L240.71,355.27 L241.07,355.62 L241.44,355.33 L241.80,355.07 L242.16,355.69 L242.53,355.19 L242.89,355.63 L243.26,355.04 L243.62,355.51 L243.98,355.49 L244.35,355.39 L244.71,355.47 L245.08,355.49 L245.44,354.97 L245.80,355.44 L246.17,355.32 L246.53,355.38 L246.90,354.94 L247.26,355.24 L247.62,355.31 L247.99,355.07 L248.35,355.03 L248.72,354.69 L249.08,354.55 L249.44,354.99 L249.81,354.99 L250.17,354.82 L250.54,354.95 L250.90,355.04" fill="none" stroke="#000" stroke-width="1.1"/>
<path d="M32.50,357.50 L32.86,357.09 L33.23,357.21 L33.59,357.19 L33.96,357.44 L34.32,357.44 L34.68,356.87 L35.05,357.48 L35.41,357.52 L35.78,357.28 L36.14,357.14 L36.50,357.53 L36.87,357.33 L37.23,357.19 L37.60,357.41 L37.96,357.38 L38.32,357.07 L38.69,357.00 L39.05,356.96 L39.42,357.45 L39.78,357.48 L40.14,357.42 L40.51,357.51 L40.87,357.06 L41.24,357.51 L41.60,357.45 L41.96,357.27 L42.33,357.24 L42.69,357.39 L43.06,356.83 L43.42,357.36 L43.78,356.76 L44.15,357.04 L44.51,357.15 L44.88,356.76 L45.24,357.25 L45.60,357.42 L45.97,357.43 L46.33,357.37 L46.70,357.35 L47.06,357.17 L47.42,357.45 L47.79,357.33 L48.15,357.32 L48.52,357.19 L48.88,357.52 L49.24,357.26 L49.61,357.16 L49.97,356.88 L50.34,357.15 L50.70,357.20 L51.06,356.80 L51.43,356.86 L51.79,356.69 L52.16,357.44 L52.52,357.35 L52.88,356.95 L53.25,356.84 L53.61,357.16 L53.98,357.28 L54.34,357.48 L54.70,357.30 L55.07,357.31 L55.43,357.13 L55.80,357.51 L56.16,357.41 L56.52,356.89 L56.89,356.69 L57.25,357.00 L57.62,357.20 L57.98,357.37 L58.34,357.43 L58.71,357.37 L59.07,356.96 L59.44,357.46 L59.80,357.46 L60.16,357.46 L60.53,357.47 L60.89,357.47 L61.26,357.23 L61.62,356.81 L61.98,356.86 L62.35,356.26 L62.71,357.49 L63.08,357.48 L63.44,357.40 L63.80,357.46 L64.17,357.48 L64.53,357.42 L64.90,357.19 L65.26,357.38 L65.62,357.40 L65.99,356.85 L66.35,357.35 L66.72,357.19 L67.08,356.72 L67.44,357.26 L67.81,357.33 L68.17,357.12 L68.54,357.43 L68.90,357.24 L69.26,357.16 L69.63,357.08 L69.99,357.36 L70.36,357.15 L70.72,357.38 L71.08,357.02 L71.45,357.30 L71.81,357.51 L72.18,357.24 L72.54,357.11 L72.90,357.48 L73.27,357.48 L73.63,357.52 L74.00,357.14 L74.36,357.30 L74.72,357.05 L75.09,357.47 L75.45,357.45 L75.82,357.44 L76.18,357.26 L76.54,357.25 L76.91,357.39 L77.27,357.24 L77.64,357.38 L78.00,356.98 L78.36,357.41 L78.73,357.52 L79.09,357.13 L79.46,356.73 L79.82,357.53 L80.18,357.15 L80.55,357.28 L80.91,357.37 L81.28,357.34 L81.64,357.31 L82.00,357.21 L82.37,357.19 L82.73,357.43 L83.10,357.21 L83.46,357.52 L83.82,357.45 L84.19,357.01 L84.55,357.29 L84.92,357.44 L85.28,357.30 L85.64,357.45 L86.01,357.29 L86.37,357.39 L86.74,357.19 L87.10,357.48 L87.46,357.38 L87.83,357.40 L88.19,357.25 L88.56,357.35 L88.92,357.21 L89.28,357.40 L89.65,357.37 L90.01,357.27 L90.38,357.10 L90.74,357.25 L91.10,357.28 L91.47,357.51 L91.83,357.36 L92.20,357.31 L92.56,357.49 L92.92,357.30 L93.29,356.90 L93.65,357.42 L94.02,357.28 L94.38,357.36 L94.74,357.06 L95.11,357.42 L95.47,357.23 L95.84,357.33 L96.20,357.32 L96.56,357.46 L96.93,357.27 L97.29,357.33 L97.66,357.23 L98.02,357.22 L98.38,357.36 L98.75,357.36 L99.11,357.44 L99.48,356.69 L99.84,357.51 L100.20,356.78 L100.57,356.82 L100.93,356.74 L101.30,357.19 L101.66,357.31 L102.02,357.43 L102.39,357.52 L102.75,356.86 L103.12,357.31 L103.48,357.17 L103.84,357.46 L104.21,357.22 L104.57,357.52 L104.94,357.40 L105.30,357.29 L105.66,357.38 L106.03,357.50 L106.39,357.44 L106.76,357.09 L107.12,357.23 L107.48,356.87 L107.85,357.19 L108.21,357.16 L108.58,357.26 L108.94,356.95 L109.30,357.49 L109.67,357.40 L110.03,357.27 L110.40,357.31 L110.76,357.17 L111.12,356.82 L111.49,357.11 L111.85,357.29 L112.22,357.33 L112.58,357.53 L112.94,356.83 L113.31,356.93 L113.67,357.45 L114.04,357.40 L114.40,357.35 L114.76,356.90 L115.13,357.40 L115.49,357.24 L115.86,356.99 L116.22,356.97 L116.58,357.23 L116.95,357.52 L117.31,357.50 L117.68,357.05 L118.04,357.03 L118.40,357.27 L118.77,357.45 L119.13,357.49 L119.50,357.11 L119.86,357.18 L120.22,357.35 L120.59,357.53 L120.95,357.52 L121.32,357.36 L121.68,357.47 L122.04,357.44 L122.41,357.44 L122.77,356.85 L123.14,357.43 L123.50,357.18 L123.86,357.32 L124.23,357.41 L124.59,357.26 L124.96,357.23 L125.32,357.13 L125.68,357.25 L126.05,357.36 L126.41,357.42 L126.78,357.24 L127.14,357.22 L127.50,357.22 L127.87,357.46 L128.23,357.20 L128.60,357.34 L128.96,357.43 L129.32,357.20 L129.69,357.19 L130.05,357.47 L130.42,357.20 L130.78,357.38 L131.14,357.07 L131.51,357.23 L131.87,357.39 L132.24,356.99 L132.60,357.52 L132.96,357.06 L133.33,357.28 L133.69,357.28 L134.06,357.47 L134.42,357.01 L134.78,357.41 L135.15,357.20 L135.51,357.37 L135.88,356.89 L136.24,357.21 L136.60,357.22 L136.97,357.40 L137.33,357.04 L137.70,357.16 L138.06,357.51 L138.42,357.14 L138.79,357.07 L139.15,357.08 L139.52,357.15 L139.88,356.91 L140.24,357.40 L140.61,357.03 L140.97,357.49 L141.34,357.08 L141.70,357.16 L142.06,357.25 L142.43,357.34 L142.79,357.53 L143.16,357.52 L143.52,357.43 L143.88,357.40 L144.25,357.45 L144.61,357.37 L144.98,357.38 L145.34,356.87 L145.70,357.44 L146.07,357.04 L146.43,357.07 L146.80,357.23 L147.16,356.94 L147.52,357.09 L147.89,357.40 L148.25,357.51 L148.62,357.44 L148.98,357.49 L149.34,357.12 L149.71,357.50 L150.07,357.37 L150.44,357.53 L150.80,356.71 L151.16,357.25 L151.53,357.42 L151.89,356.93 L152.26,357.28 L152.62,357.52 L152.98,357.31 L153.35,357.54 L153.71,357.05 L154.08,357.53 L154.44,357.18 L154.80,357.29 L155.17,357.26 L155.53,357.30 L155.90,357.20 L156.26,357.12 L156.62,357.23 L156.99,357.03 L157.35,357.24 L157.72,357.16 L158.08,356.77 L158.44,356.49 L158.81,355.76 L159.17,355.58 L159.54,354.67 L159.90,353.58 L160.26,352.77 L160.63,351.06 L160.99,349.09 L161.36,346.28 L161.72,343.50 L162.08,340.05 L162.45,336.32 L162.81,331.68 L163.18,327.32 L163.54,322.49 L163.90,317.31 L164.27,312.47 L164.63,307.49 L165.00,303.60 L165.36,299.90 L165.72,297.06 L166.09,294.75 L166.45,294.63 L166.82,294.40 L167.18,295.25 L167.54,297.12 L167.91,299.53 L168.27,302.50 L168.64,305.96 L169.00,309.59 L169.36,313.23 L169.73,317.56 L170.09,321.49 L170.46,325.30 L170.82,329.12 L171.18,332.40 L171.55,335.54 L171.91,338.31 L172.28,341.30 L172.64,344.00 L173.00,345.37 L173.37,347.57 L173.73,348.92 L174.10,349.89 L174.46,350.71 L174.82,352.02 L175.19,352.53 L175.55,353.03 L175.92,353.68 L176.28,353.27 L176.64,354.25 L177.01,354.74 L177.37,354.99 L177.74,354.72 L178.10,355.08 L178.46,354.88 L178.83,355.69 L179.19,355.80 L179.56,356.06 L179.92,356.05 L180.28,356.22 L180.65,356.04 L181.01,356.18 L181.38,356.18 L181.74,356.83 L182.10,356.23 L182.47,356.87 L182.83,356.74 L183.20,357.12 L183.56,357.05 L183.92,356.69 L184.29,356.92 L184.65,357.24 L185.02,357.04 L185.38,356.92 L185.74,357.15 L186.11,357.11 L186.47,357.43 L186.84,357.09 L187.20,357.32 L187.56,357.37 L187.93,357.04 L188.29,357.17 L188.66,357.41 L189.02,357.34 L189.38,357.47 L189.75,357.44 L190.11,357.01 L190.48,356.97 L190.84,357.05 L191.20,357.40 L191.57,357.45 L191.93,357.21 L192.30,357.41 L192.66,357.45 L193.02,356.95 L193.39,357.39 L193.75,357.03 L194.12,357.17 L194.48,357.01 L194.84,357.48 L195.21,356.95 L195.57,357.02 L195.94,357.41 L196.30,357.37 L196.66,357.50 L197.03,357.21 L197.39,357.52 L197.76,357.43 L198.12,357.02 L198.48,357.33 L198.85,357.45 L199.21,357.23 L199.58,357.14 L199.94,357.22 L200.30,356.87 L200.67,357.43 L201.03,357.39 L201.40,357.36 L201.76,357.46 L202.12,357.26 L202.49,357.05 L202.85,357.17 L203.22,357.28 L203.58,357.30 L203.94,357.22 L204.31,357.45 L204.67,357.33 L205.04,357.03 L205.40,357.30 L205.76,357.52 L206.13,357.09 L206.49,357.51 L206.86,357.20 L207.22,357.50 L207.58,357.19 L207.95,357.46 L208.31,357.46 L208.68,357.27 L209.04,357.53 L209.40,357.50 L209.77,357.21 L210.13,357.36 L210.50,357.22 L210.86,356.95 L211.22,357.38 L211.59,357.12 L211.95,356.99 L212.32,357.32 L212.68,357.35 L213.04,357.40 L213.41,357.43 L213.77,357.43 L214.14,356.98 L214.50,357.45 L214.86,357.33 L215.23,357.03 L215.59,357.25 L215.96,357.30 L216.32,357.00 L216.68,357.37 L217.05,357.43 L217.41,357.35 L217.78,357.40 L218.14,357.09 L218.50,357.46 L218.87,357.46 L219.23,357.28 L219.60,357.52 L219.96,357.45 L220.32,357.26 L220.69,356.78 L221.05,357.12 L221.42,357.31 L221.78,356.95 L222.14,357.21 L222.51,356.69 L222.87,356.58 L223.24,357.16 L223.60,356.97 L223.96,356.96 L224.33,356.87 L224.69,356.70 L225.06,356.79 L225.42,356.49 L225.78,357.06 L226.15,356.83 L226.51,356.66 L226.88,356.60 L227.24,356.90 L227.60,356.78 L227.97,356.49 L228.33,356.46 L228.70,356.74 L229.06,356.58 L229.42,356.48 L229.79,355.94 L230.15,356.36 L230.52,356.55 L230.88,356.54 L231.24,356.51 L231.61,356.13 L231.97,356.26 L232.34,356.44 L232.70,356.50 L233.06,356.35 L233.43,355.67 L233.79,356.24 L234.16,356.09 L234.52,355.73 L234.88,356.28 L235.25,356.14 L235.61,355.99 L235.98,355.89 L236.34,355.73 L236.70,355.95 L237.07,356.15 L237.43,355.82 L237.80,355.83 L238.16,355.32 L238.52,355.81 L238.89,355.74 L239.25,355.98 L239.62,355.56 L239.98,355.86 L240.34,355.84 L240.71,355.67 L241.07,355.74 L241.44,355.60 L241.80,355.44 L242.16,355.63 L242.53,355.32 L242.89,355.25 L243.26,355.44 L243.62,355.51 L243.98,355.25 L244.35,355.57 L244.71,355.20 L245.08,355.21 L245.44,354.82 L245.80,355.41 L246.17,355.11 L246.53,355.12 L246.90,355.07 L247.26,355.15 L247.62,355.18 L247.99,355.06 L248.35,355.27 L248.72,355.20 L249.08,355.02 L249.44,354.96 L249.81,355.10 L250.17,355.07 L250.54,354.89 L250.90,354.89" fill="none" stroke="#000" stroke-width="1.2"/>
<path d="M32.50,356.71 L32.86,357.30 L33.23,357.40 L33.59,357.48 L33.96,357.24 L34.32,357.04 L34.68,357.39 L35.05,357.27 L35.41,357.16 L35.78,357.24 L36.14,357.36 L36.50,357.43 L36.87,357.22 L37.23,357.39 L37.60,357.34 L37.96,356.41 L38.32,357.12 L38.69,357.40 L39.05,357.27 L39.42,357.44 L39.78,357.45 L40.14,357.52 L40.51,357.23 L40.87,357.47 L41.24,356.99 L41.60,357.03 L41.96,357.09 L42.33,357.46 L42.69,357.53 L43.06,357.46 L43.42,357.45 L43.78,357.37 L44.15,356.25 L44.51,357.45 L44.88,357.43 L45.24,357.34 L45.60,357.04 L45.97,357.15 L46.33,357.46 L46.70,356.77 L47.06,357.49 L47.42,356.91 L47.79,356.93 L48.15,356.75 L48.52,357.33 L48.88,357.49 L49.24,357.52 L49.61,356.98 L49.97,357.11 L50.34,357.43 L50.70,356.73 L51.06,357.49 L51.43,356.87 L51.79,357.53 L52.16,357.09 L52.52,356.96 L52.88,357.22 L53.25,357.30 L53.61,356.81 L53.98,357.21 L54.34,357.47 L54.70,357.13 L55.07,357.48 L55.43,357.23 L55.80,357.47 L56.16,357.33 L56.52,357.30 L56.89,357.38 L57.25,357.28 L57.62,357.38 L57.98,357.00 L58.34,357.39 L58.71,357.11 L59.07,357.52 L59.44,357.26 L59.80,357.15 L60.16,357.44 L60.53,357.31 L60.89,356.72 L61.26,357.47 L61.62,357.44 L61.98,357.44 L62.35,357.29 L62.71,357.02 L63.08,357.34 L63.44,357.41 L63.80,357.53 L64.17,357.41 L64.53,357.37 L64.90,357.31 L65.26,357.43 L65.62,356.82 L65.99,357.20 L66.35,357.27 L66.72,357.38 L67.08,357.33 L67.44,357.36 L67.81,356.83 L68.17,357.04 L68.54,357.28 L68.90,357.21 L69.26,357.47 L69.63,357.29 L69.99,357.07 L70.36,356.78 L70.72,357.10 L71.08,356.97 L71.45,357.45 L71.81,357.27 L72.18,357.50 L72.54,357.46 L72.90,357.35 L73.27,357.32 L73.63,357.04 L74.00,357.46 L74.36,357.47 L74.72,357.33 L75.09,357.52 L75.45,357.22 L75.82,357.46 L76.18,357.10 L76.54,357.15 L76.91,357.29 L77.27,357.33 L77.64,357.16 L78.00,357.46 L78.36,357.48 L78.73,356.96 L79.09,357.05 L79.46,357.19 L79.82,357.18 L80.18,357.12 L80.55,357.29 L80.91,357.49 L81.28,357.37 L81.64,357.28 L82.00,357.23 L82.37,357.31 L82.73,357.41 L83.10,357.41 L83.46,357.23 L83.82,357.36 L84.19,357.34 L84.55,357.52 L84.92,357.27 L85.28,357.47 L85.64,357.25 L86.01,357.31 L86.37,357.09 L86.74,357.49 L87.10,357.46 L87.46,357.44 L87.83,357.33 L88.19,357.49 L88.56,357.12 L88.92,357.25 L89.28,356.53 L89.65,357.48 L90.01,356.49 L90.38,357.08 L90.74,357.49 L91.10,357.16 L91.47,357.53 L91.83,357.06 L92.20,357.09 L92.56,357.09 L92.92,357.47 L93.29,357.27 L93.65,357.15 L94.02,357.34 L94.38,357.44 L94.74,357.53 L95.11,357.39 L95.47,357.44 L95.84,357.49 L96.20,357.28 L96.56,357.36 L96.93,357.40 L97.29,357.51 L97.66,357.29 L98.02,357.15 L98.38,357.48 L98.75,357.35 L99.11,357.07 L99.48,357.36 L99.84,356.79 L100.20,356.98 L100.57,357.41 L100.93,357.15 L101.30,357.37 L101.66,357.44 L102.02,357.48 L102.39,357.16 L102.75,357.32 L103.12,357.47 L103.48,357.39 L103.84,357.43 L104.21,357.22 L104.57,356.75 L104.94,357.44 L105.30,357.31 L105.66,357.35 L106.03,357.20 L106.39,357.50 L106.76,357.00 L107.12,357.47 L107.48,357.29 L107.85,357.36 L108.21,357.25 L108.58,357.09 L108.94,357.15 L109.30,357.50 L109.67,357.19 L110.03,357.32 L110.40,357.41 L110.76,357.08 L111.12,357.28 L111.49,357.41 L111.85,356.96 L112.22,356.94 L112.58,357.01 L112.94,357.26 L113.31,357.37 L113.67,357.11 L114.04,357.23 L114.40,357.29 L114.76,357.53 L115.13,357.18 L115.49,357.41 L115.86,357.41 L116.22,356.93 L116.58,357.20 L116.95,356.97 L117.31,356.84 L117.68,357.51 L118.04,357.46 L118.40,357.21 L118.77,357.02 L119.13,357.47 L119.50,357.13 L119.86,357.29 L120.22,357.23 L120.59,357.45 L120.95,357.27 L121.32,357.14 L121.68,357.47 L122.04,356.92 L122.41,357.36 L122.77,356.93 L123.14,357.26 L123.50,357.46 L123.86,357.29 L124.23,357.26 L124.59,357.52 L124.96,357.06 L125.32,357.30 L125.68,357.13 L126.05,357.31 L126.41,357.47 L126.78,357.39 L127.14,356.77 L127.50,356.57 L127.87,357.31 L128.23,357.24 L128.60,357.40 L128.96,357.47 L129.32,356.70 L129.69,356.89 L130.05,357.43 L130.42,357.39 L130.78,357.46 L131.14,357.29 L131.51,357.28 L131.87,357.07 L132.24,357.14 L132.60,357.37 L132.96,357.20 L133.33,357.25 L133.69,356.97 L134.06,357.35 L134.42,357.19 L134.78,357.29 L135.15,357.48 L135.51,357.27 L135.88,357.23 L136.24,357.30 L136.60,357.43 L136.97,357.19 L137.33,356.92 L137.70,357.52 L138.06,357.36 L138.42,357.45 L138.79,357.46 L139.15,357.50 L139.52,356.93 L139.88,357.13 L140.24,357.36 L140.61,357.15 L140.97,357.18 L141.34,357.50 L141.70,357.33 L142.06,356.73 L142.43,357.43 L142.79,357.15 L143.16,357.23 L143.52,357.46 L143.88,357.52 L144.25,357.02 L144.61,357.49 L144.98,356.85 L145.34,357.46 L145.70,357.05 L146.07,357.11 L146.43,357.24 L146.80,357.04 L147.16,357.46 L147.52,357.14 L147.89,357.51 L148.25,357.36 L148.62,356.83 L148.98,357.15 L149.34,357.01 L149.71,356.70 L150.07,357.45 L150.44,357.47 L150.80,357.06 L151.16,356.93 L151.53,357.12 L151.89,357.01 L152.26,357.15 L152.62,357.50 L152.98,357.29 L153.35,357.50 L153.71,357.04 L154.08,357.26 L154.44,356.87 L154.80,357.10 L155.17,356.98 L155.53,357.01 L155.90,357.01 L156.26,356.54 L156.62,356.45 L156.99,355.94 L157.35,354.74 L157.72,354.82 L158.08,353.79 L158.44,351.77 L158.81,350.61 L159.17,348.10 L159.54,345.13 L159.90,341.66 L160.26,338.00 L160.63,333.01 L160.99,327.23 L161.36,320.92 L161.72,313.79 L162.08,305.40 L162.45,297.23 L162.81,288.48 L163.18,279.34 L163.54,271.02 L163.90,262.38 L164.27,254.79 L164.63,247.84 L165.00,242.84 L165.36,238.86 L165.72,236.49 L166.09,235.75 L166.45,236.58 L166.82,238.91 L167.18,241.85 L167.54,246.71 L167.91,251.80 L168.27,258.26 L168.64,264.82 L169.00,272.32 L169.36,279.23 L169.73,287.20 L170.09,294.73 L170.46,301.66 L170.82,308.57 L171.18,315.38 L171.55,321.21 L171.91,326.60 L172.28,331.31 L172.64,335.39 L173.00,338.93 L173.37,341.95 L173.73,344.92 L174.10,347.07 L174.46,349.14 L174.82,350.63 L175.19,351.79 L175.55,352.79 L175.92,353.20 L176.28,354.42 L176.64,354.94 L177.01,355.05 L177.37,355.78 L177.74,355.92 L178.10,356.14 L178.46,356.51 L178.83,356.59 L179.19,355.99 L179.56,356.48 L179.92,356.65 L180.28,356.90 L180.65,356.98 L181.01,357.21 L181.38,357.19 L181.74,357.15 L182.10,357.33 L182.47,357.14 L182.83,357.33 L183.20,356.83 L183.56,356.98 L183.92,357.01 L184.29,357.32 L184.65,357.22 L185.02,357.38 L185.38,357.31 L185.74,357.37 L186.11,357.33 L186.47,357.03 L186.84,357.30 L187.20,357.29 L187.56,357.46 L187.93,357.28 L188.29,357.33 L188.66,357.02 L189.02,356.88 L189.38,356.88 L189.75,356.58 L190.11,355.82 L190.48,355.10 L190.84,353.70 L191.20,351.14 L191.57,347.14 L191.93,343.17 L192.30,336.68 L192.66,329.86 L193.02,322.63 L193.39,316.45 L193.75,310.04 L194.12,307.56 L194.48,306.50 L194.84,308.37 L195.21,311.68 L195.57,316.73 L195.94,322.65 L196.30,328.70 L196.66,335.01 L197.03,339.85 L197.39,345.16 L197.76,348.66 L198.12,351.03 L198.48,353.85 L198.85,355.25 L199.21,356.03 L199.58,356.53 L199.94,356.50 L200.30,356.97 L200.67,357.41 L201.03,357.11 L201.40,357.26 L201.76,357.46 L202.12,357.36 L202.49,357.23 L202.85,357.43 L203.22,357.04 L203.58,357.36 L203.94,357.29 L204.31,357.39 L204.67,357.46 L205.04,357.38 L205.40,357.35 L205.76,357.53 L206.13,357.15 L206.49,357.51 L206.86,357.15 L207.22,357.39 L207.58,356.95 L207.95,356.56 L208.31,355.75 L208.68,353.87 L209.04,350.81 L209.40,345.83 L209.77,337.58 L210.13,325.04 L210.50,307.98 L210.86,286.81 L211.22,262.01 L211.59,236.00 L211.95,213.46 L212.32,196.03 L212.68,187.43 L213.04,188.63 L213.41,196.29 L213.77,209.37 L214.14,227.04 L214.50,246.25 L214.86,266.90 L215.23,285.98 L215.59,302.81 L215.96,317.46 L216.32,329.04 L216.68,336.99 L217.05,344.00 L217.41,347.89 L217.78,351.40 L218.14,352.95 L218.50,354.37 L218.87,355.11 L219.23,355.67 L219.60,355.12 L219.96,355.53 L220.32,355.84 L220.69,355.94 L221.05,356.31 L221.42,356.03 L221.78,356.55 L222.14,356.74 L222.51,356.92 L222.87,356.94 L223.24,356.75 L223.60,356.83 L223.96,356.96 L224.33,356.88 L224.69,356.98 L225.06,356.91 L225.42,356.54 L225.78,356.93 L226.15,356.29 L226.51,356.76 L226.88,356.94 L227.24,356.54 L227.60,356.74 L227.97,356.82 L228.33,356.74 L228.70,356.83 L229.06,356.56 L229.42,356.03 L229.79,356.56 L230.15,356.34 L230.52,356.39 L230.88,356.01 L231.24,356.37 L231.61,356.29 L231.97,356.46 L232.34,356.42 L232.70,356.33 L233.06,356.34 L233.43,356.23 L233.79,356.35 L234.16,356.05 L234.52,356.03 L234.88,355.86 L235.25,355.72 L235.61,356.20 L235.98,355.85 L236.34,356.05 L236.70,356.09 L237.07,355.66 L237.43,355.74 L237.80,355.94 L238.16,355.91 L238.52,355.84 L238.89,355.82 L239.25,355.66 L239.62,355.81 L239.98,355.43 L240.34,355.53 L240.71,355.71 L241.07,355.43 L241.44,355.54 L241.80,355.74 L242.16,355.66 L242.53,354.70 L242.89,355.63 L243.26,355.13 L243.62,355.48 L243.98,355.13 L244.35,355.15 L244.71,355.47 L245.08,355.46 L245.44,355.28 L245.80,355.03 L246.17,355.20 L246.53,355.01 L246.90,354.97 L247.26,355.24 L247.62,354.94 L247.99,354.72 L248.35,355.09 L248.72,354.94 L249.08,354.61 L249.44,355.10 L249.81,355.10 L250.17,355.07 L250.54,354.94 L250.90,354.78" fill="none" stroke="#000" stroke-width="1.2"/>
<path d="M32.9,357.8 L220.0,357.8 L251,355.6" fill="none" stroke="#000" stroke-width="2.6"/>
<line x1="32.9" y1="358.9" x2="251" y2="358.9" stroke="#000" stroke-width="1"/>
<text x="144.2" y="218" font-size="12.5" font-weight="bold" text-anchor="start" fill="#000" textLength="29" lengthAdjust="spacingAndGlyphs" >IgG1</text>
<text x="171.6" y="293.6" font-size="12.5" font-weight="bold" text-anchor="start" fill="#000" textLength="31" lengthAdjust="spacingAndGlyphs" >IgG4</text>
<text x="195" y="178" font-size="12.5" font-weight="bold" text-anchor="start" fill="#000" textLength="41.8" lengthAdjust="spacingAndGlyphs" >IgG2/3</text>
<line x1="294.0" y1="188.9" x2="294.0" y2="360.3" stroke="#000" stroke-width="1.6"/>
<path d="M290.2,359.70H293.7 M291.5,352.87H293.7 M291.5,346.04H293.7 M291.5,339.20H293.7 M291.5,332.37H293.7 M290.2,325.54H293.7 M291.5,318.71H293.7 M291.5,311.88H293.7 M291.5,305.04H293.7 M291.5,298.21H293.7 M290.2,291.38H293.7 M291.5,284.55H293.7 M291.5,277.72H293.7 M291.5,270.88H293.7 M291.5,264.05H293.7 M290.2,257.22H293.7 M291.5,250.39H293.7 M291.5,243.56H293.7 M291.5,236.72H293.7 M291.5,229.89H293.7 M290.2,223.06H293.7 M291.5,216.23H293.7 M291.5,209.40H293.7 M291.5,202.56H293.7 M291.5,195.73H293.7 M290.2,188.90H293.7 M340.60,359.7V361.9 M389.60,359.7V361.9 M438.60,359.7V361.9 M487.60,359.7V361.9 M536.60,359.7V361.9 M585.60,359.7V361.9 M634.60,359.7V361.9 M683.60,359.7V361.9 M732.60,359.7V361.9 M781.60,359.7V361.9" stroke="#000" stroke-width="1"/>
<text x="268.0" y="193.2" font-size="10.3" font-weight="normal" text-anchor="start" fill="#000" textLength="15.3" lengthAdjust="spacingAndGlyphs" >1.0</text>
<text x="268.0" y="227.67999999999998" font-size="10.3" font-weight="normal" text-anchor="start" fill="#000" textLength="15.3" lengthAdjust="spacingAndGlyphs" >0.8</text>
<text x="268.0" y="262.15999999999997" font-size="10.3" font-weight="normal" text-anchor="start" fill="#000" textLength="15.3" lengthAdjust="spacingAndGlyphs" >0.6</text>
<text x="268.0" y="296.64" font-size="10.3" font-weight="normal" text-anchor="start" fill="#000" textLength="15.3" lengthAdjust="spacingAndGlyphs" >0.4</text>
<text x="268.0" y="331.11999999999995" font-size="10.3" font-weight="normal" text-anchor="start" fill="#000" textLength="15.3" lengthAdjust="spacingAndGlyphs" >0.2</text>
<text x="268.59999999999997" y="365.59999999999997" font-size="10.3" font-weight="normal" text-anchor="start" fill="#000" textLength="15.3" lengthAdjust="spacingAndGlyphs" >0.0</text>
<text x="343.5" y="372.6" font-size="10.5" font-weight="normal" text-anchor="middle" fill="#000" >800</text>
<text x="443.1" y="372.6" font-size="10.5" font-weight="normal" text-anchor="middle" fill="#000" >1000</text>
<text x="542.7" y="372.6" font-size="10.5" font-weight="normal" text-anchor="middle" fill="#000" >1200</text>
<text x="640.9" y="372.6" font-size="10.5" font-weight="normal" text-anchor="middle" fill="#000" >1400</text>
<text x="740" y="372.6" font-size="10.5" font-weight="normal" text-anchor="middle" fill="#000" >1600</text>
<text x="509.2" y="388.9" font-size="10.5" font-weight="normal" text-anchor="start" fill="#000" textLength="17.3" lengthAdjust="spacingAndGlyphs" font-style="italic">m/z</text>
<text x="310.9" y="208.7" font-size="23.5" font-weight="normal" text-anchor="start" fill="#000" >C</text>
<path d="M296.3,359.7V356.4 M299.5,359.7V355.7 M301.2,359.7V347.0 M302.2,359.7V350.0 M303.3,359.7V351.2 M311.0,359.7V357.0 M318.7,359.7V357.2 M325.3,359.7V352.2 M326.2,359.7V352.5 M328.8,359.7V343.0 M329.7,359.7V353.0 M349.6,359.7V358.0 M364.3,359.7V358.0 M374.5,359.7V355.7 M381.8,359.7V291.9 M382.2,359.7V315.7 M382.6,359.7V343.8 M384.2,359.7V354.0 M385.6,359.7V356.0 M407.9,359.7V195.6 M408.5,359.7V245.0 M409.1,359.7V318.0 M410.5,359.7V352.0 M412.0,359.7V354.0 M414.8,359.7V335.8 M416.0,359.7V350.0 M421.0,359.7V353.8 M426.0,359.7V357.0 M434.2,359.7V237.3 M434.8,359.7V268.0 M436.0,359.7V350.0 M437.5,359.7V354.0 M440.9,359.7V305.6 M441.6,359.7V335.0 M443.0,359.7V354.0 M446.0,359.7V356.0 M449.0,359.7V357.0 M455.6,359.7V346.9 M456.3,359.7V350.0 M458.0,359.7V355.0 M467.2,359.7V346.0 M468.0,359.7V348.0 M469.2,359.7V352.0 M472.0,359.7V356.0 M481.6,359.7V261.8 M482.3,359.7V300.0 M483.5,359.7V352.0 M486.0,359.7V356.0 M490.0,359.7V357.5 M494.8,359.7V357.5 M515.8,359.7V357.0 M529.2,359.7V357.5 M541.6,359.7V357.6 M545.4,359.7V357.6 M558.8,359.7V357.8 M575.0,359.7V358.0 M595.3,359.7V313.0 M595.9,359.7V330.0 M597.0,359.7V352.0 M599.9,359.7V344.3 M600.6,359.7V346.0 M602.0,359.7V354.0 M615.5,359.7V346.6 M616.2,359.7V352.0 M634.8,359.7V264.3 M635.3,359.7V297.9 M636.0,359.7V320.0 M637.0,359.7V350.0 M640.3,359.7V355.0 M645.4,359.7V355.0 M649.0,359.7V356.0 M655.0,359.7V342.7 M655.7,359.7V350.0 M660.0,359.7V353.0 M671.5,359.7V357.0 M674.3,359.7V321.7 M675.0,359.7V340.0 M676.2,359.7V353.0 M679.6,359.7V355.5 M685.1,359.7V353.5 M690.2,359.7V353.5 M710.6,359.7V356.0 M745.9,359.7V354.4 M760.0,359.7V358.0 M770.0,359.7V358.5" stroke="#000" stroke-width="1.1" fill="none"/>
<line x1="293.7" y1="359.3" x2="781.5" y2="359.3" stroke="#000" stroke-width="1.8"/>
<path d="M381.5,214.5V244.4 M381.5,222.8H370.5 M381.5,244.4L371.15,255.20000000000002 M371.15,255.20000000000002V266.0 M381.5,244.4L391.85,255.20000000000002 M391.85,255.20000000000002V266.0" stroke="#000" stroke-width="1.3" fill="none"/><g stroke="#000" stroke-width="1.1"><path d="M367.80,222.8L373.00,220.3L373.00,225.3Z" fill="#e00000" stroke-width="1.5"/><rect x="378.75" y="220.05" width="5.5" height="5.5" fill="#0000ff"/><rect x="378.75" y="230.85" width="5.5" height="5.5" fill="#0000ff"/><circle cx="381.50" cy="244.40" r="2.7" fill="#00c800"/><circle cx="371.15" cy="255.20" r="2.7" fill="#00c800"/><rect x="368.40" y="263.25" width="5.5" height="5.5" fill="#0000ff"/><circle cx="391.85" cy="255.20" r="2.7" fill="#00c800"/><rect x="389.10" y="263.25" width="5.5" height="5.5" fill="#0000ff"/></g><text x="374.6" y="213.2" font-size="11" fill="#333">pep</text>
<path d="M439.2,149.6V179.8 M439.2,157.9H428.2 M439.2,179.8L428.84999999999997,190.75 M428.84999999999997,190.75V212.65 M439.2,179.8L449.55,190.75 M449.55,190.75V212.65" stroke="#000" stroke-width="1.3" fill="none"/><g stroke="#000" stroke-width="1.1"><path d="M425.50,157.9L430.70,155.4L430.70,160.4Z" fill="#e00000" stroke-width="1.5"/><rect x="436.45" y="155.15" width="5.5" height="5.5" fill="#0000ff"/><rect x="436.45" y="166.10" width="5.5" height="5.5" fill="#0000ff"/><circle cx="439.20" cy="179.80" r="2.7" fill="#00c800"/><circle cx="428.85" cy="190.75" r="2.7" fill="#00c800"/><rect x="426.10" y="198.95" width="5.5" height="5.5" fill="#0000ff"/><circle cx="428.85" cy="212.65" r="2.7" fill="#ffff00"/><circle cx="449.55" cy="190.75" r="2.7" fill="#00c800"/><rect x="446.80" y="198.95" width="5.5" height="5.5" fill="#0000ff"/><circle cx="449.55" cy="212.65" r="2.7" fill="#ffff00"/></g><text x="433.3" y="146.9" font-size="11" fill="#333">pep</text>
<path d="M502.6,171.29999999999998V201.4 M502.6,179.6H491.6 M502.6,201.4L492.25,212.3 M492.25,212.3V234.10000000000002 M502.6,201.4L512.95,212.3 M512.95,212.3V245.0" stroke="#000" stroke-width="1.3" fill="none"/><g stroke="#000" stroke-width="1.1"><path d="M488.90,179.6L494.10,177.1L494.10,182.1Z" fill="#e00000" stroke-width="1.5"/><rect x="499.85" y="176.85" width="5.5" height="5.5" fill="#0000ff"/><rect x="499.85" y="187.75" width="5.5" height="5.5" fill="#0000ff"/><circle cx="502.60" cy="201.40" r="2.7" fill="#00c800"/><circle cx="492.25" cy="212.30" r="2.7" fill="#00c800"/><rect x="489.50" y="220.45" width="5.5" height="5.5" fill="#0000ff"/><circle cx="492.25" cy="234.10" r="2.7" fill="#ffff00"/><circle cx="512.95" cy="212.30" r="2.7" fill="#00c800"/><rect x="510.20" y="220.45" width="5.5" height="5.5" fill="#0000ff"/><circle cx="512.95" cy="234.10" r="2.7" fill="#ffff00"/><path d="M512.95,241.4L516.5500000000001,245.0L512.95,248.6L509.35,245.0Z" fill="#c000c0"/></g><text x="497.1" y="168.9" font-size="11" fill="#333">pep</text>
<path d="M595.9,233.0V262.90000000000003 M595.9,241.3H584.9 M595.9,262.90000000000003L585.55,273.70000000000005 M585.55,273.70000000000005V284.50000000000006 M595.9,262.90000000000003L606.25,273.70000000000005 M606.25,273.70000000000005V284.50000000000006" stroke="#000" stroke-width="1.3" fill="none"/><g stroke="#000" stroke-width="1.1"><path d="M582.20,241.3L587.40,238.8L587.40,243.8Z" fill="#e00000" stroke-width="1.5"/><rect x="593.15" y="238.55" width="5.5" height="5.5" fill="#0000ff"/><rect x="593.15" y="249.35" width="5.5" height="5.5" fill="#0000ff"/><circle cx="595.90" cy="262.90" r="2.7" fill="#00c800"/><circle cx="585.55" cy="273.70" r="2.7" fill="#00c800"/><rect x="582.80" y="281.75" width="5.5" height="5.5" fill="#0000ff"/><circle cx="606.25" cy="273.70" r="2.7" fill="#00c800"/><rect x="603.50" y="281.75" width="5.5" height="5.5" fill="#0000ff"/></g><text x="592.7" y="230.8" font-size="11" fill="#333">pep</text>
<path d="M636.0,173.29999999999998V203.6 M636.0,181.6H625.0 M636.0,203.6L625.65,214.6 M625.65,214.6V236.6 M636.0,203.6L646.35,214.6 M646.35,214.6V225.6" stroke="#000" stroke-width="1.3" fill="none"/><g stroke="#000" stroke-width="1.1"><path d="M622.30,181.6L627.50,179.1L627.50,184.1Z" fill="#e00000" stroke-width="1.5"/><rect x="633.25" y="178.85" width="5.5" height="5.5" fill="#0000ff"/><rect x="633.25" y="189.85" width="5.5" height="5.5" fill="#0000ff"/><circle cx="636.00" cy="203.60" r="2.7" fill="#00c800"/><circle cx="625.65" cy="214.60" r="2.7" fill="#00c800"/><rect x="622.90" y="222.85" width="5.5" height="5.5" fill="#0000ff"/><circle cx="625.65" cy="236.60" r="2.7" fill="#ffff00"/><circle cx="646.35" cy="214.60" r="2.7" fill="#00c800"/><rect x="643.60" y="222.85" width="5.5" height="5.5" fill="#0000ff"/></g><text x="632.8" y="171.5" font-size="11" fill="#333">pep</text>
<path d="M678.2,230.7V260.8 M678.2,239.0H667.2 M678.2,260.8L667.85,271.7 M667.85,271.7V293.5 M678.2,260.8L688.5500000000001,271.7 M688.5500000000001,271.7V293.5" stroke="#000" stroke-width="1.3" fill="none"/><g stroke="#000" stroke-width="1.1"><path d="M664.50,239.0L669.70,236.5L669.70,241.5Z" fill="#e00000" stroke-width="1.5"/><rect x="675.45" y="236.25" width="5.5" height="5.5" fill="#0000ff"/><rect x="675.45" y="247.15" width="5.5" height="5.5" fill="#0000ff"/><circle cx="678.20" cy="260.80" r="2.7" fill="#00c800"/><circle cx="667.85" cy="271.70" r="2.7" fill="#00c800"/><rect x="665.10" y="279.85" width="5.5" height="5.5" fill="#0000ff"/><circle cx="667.85" cy="293.50" r="2.7" fill="#ffff00"/><circle cx="688.55" cy="271.70" r="2.7" fill="#00c800"/><rect x="685.80" y="279.85" width="5.5" height="5.5" fill="#0000ff"/><circle cx="688.55" cy="293.50" r="2.7" fill="#ffff00"/></g><text x="675.0" y="227.5" font-size="11" fill="#333">pep</text>
<path d="M746.9,246.2V276.5 M746.9,254.5H735.9 M746.9,276.5L736.55,287.5 M736.55,287.5V309.5 M746.9,276.5L757.25,287.5 M757.25,287.5V320.5" stroke="#000" stroke-width="1.3" fill="none"/><g stroke="#000" stroke-width="1.1"><path d="M733.20,254.5L738.40,252.0L738.40,257.0Z" fill="#e00000" stroke-width="1.5"/><rect x="744.15" y="251.75" width="5.5" height="5.5" fill="#0000ff"/><rect x="744.15" y="262.75" width="5.5" height="5.5" fill="#0000ff"/><circle cx="746.90" cy="276.50" r="2.7" fill="#00c800"/><circle cx="736.55" cy="287.50" r="2.7" fill="#00c800"/><rect x="733.80" y="295.75" width="5.5" height="5.5" fill="#0000ff"/><circle cx="736.55" cy="309.50" r="2.7" fill="#ffff00"/><circle cx="757.25" cy="287.50" r="2.7" fill="#00c800"/><rect x="754.50" y="295.75" width="5.5" height="5.5" fill="#0000ff"/><circle cx="757.25" cy="309.50" r="2.7" fill="#ffff00"/><path d="M757.25,316.9L760.85,320.5L757.25,324.1L753.65,320.5Z" fill="#c000c0"/></g><text x="745.0" y="244.8" font-size="11" fill="#333">pep</text>
<text x="368.8" y="286" font-size="13" font-weight="bold" text-anchor="start" fill="#000" textLength="26" lengthAdjust="spacingAndGlyphs" >G0F</text>
<text x="394.3" y="186.6" font-size="13" font-weight="bold" text-anchor="start" fill="#000" textLength="26" lengthAdjust="spacingAndGlyphs" >G1F</text>
<text x="426.1" y="227.6" font-size="13" font-weight="bold" text-anchor="start" fill="#000" textLength="26" lengthAdjust="spacingAndGlyphs" >G2F</text>
<text x="467" y="253.7" font-size="13.5" font-weight="bold" text-anchor="start" fill="#000" textLength="35.2" lengthAdjust="spacingAndGlyphs" >G2FS</text>
<text x="585.3" y="303.1" font-size="13" font-weight="bold" text-anchor="start" fill="#000" textLength="25.5" lengthAdjust="spacingAndGlyphs" >G0F</text>
<text x="626.1" y="254.6" font-size="13.5" font-weight="bold" text-anchor="start" fill="#000" textLength="25.2" lengthAdjust="spacingAndGlyphs" >G1F</text>
<text x="666.4" y="312.3" font-size="13.5" font-weight="bold" text-anchor="start" fill="#000" textLength="25.7" lengthAdjust="spacingAndGlyphs" >G2F</text>
<text x="732" y="340.6" font-size="13" font-weight="bold" text-anchor="start" fill="#000" textLength="35.8" lengthAdjust="spacingAndGlyphs" >G2FS</text>
<path d="M26.3,574.55H783.6 M26.3,556.70H783.6 M26.3,538.85H783.6 M26.3,521.00H783.6 M26.3,503.15H783.6 M26.3,485.30H783.6 M26.3,467.45H624.6 M26.3,449.60H624.6 M26.3,431.75H624.6 M26.3,413.90H624.6" stroke="#5a5a5a" stroke-width="1"/>
<rect x="35.2" y="420" width="34.6" height="40" fill="#fff"/>
<text x="38.9" y="449.7" font-size="21.5" font-weight="normal" text-anchor="start" fill="#000" >D</text>
<line x1="29.9" y1="413.5" x2="29.9" y2="592.3" stroke="#6a6a6a" stroke-width="1.1"/>
<text x="16.6" y="598.6" font-size="10" font-weight="normal" text-anchor="end" fill="#000" >0</text>
<text x="16.6" y="562.5600000000001" font-size="10" font-weight="normal" text-anchor="end" fill="#000" >20</text>
<text x="16.6" y="526.52" font-size="10" font-weight="normal" text-anchor="end" fill="#000" >40</text>
<text x="16.6" y="490.48" font-size="10" font-weight="normal" text-anchor="end" fill="#000" >60</text>
<text x="16.6" y="454.44000000000005" font-size="10" font-weight="normal" text-anchor="end" fill="#000" >80</text>
<text x="16.6" y="418.4" font-size="10" font-weight="normal" text-anchor="end" fill="#000" >100</text>
<defs><pattern id="dots" x="0.3" y="0" width="4.26" height="4.26" patternUnits="userSpaceOnUse"><rect width="4.26" height="4.26" fill="#fff"/><circle cx="1.9" cy="0.6" r="0.75" fill="#000"/><circle cx="4.03" cy="2.73" r="0.75" fill="#000"/><circle cx="-0.23" cy="2.73" r="0.75" fill="#000"/></pattern><pattern id="dotsL" x="637.6" y="419.4" width="3.6" height="3.4" patternUnits="userSpaceOnUse"><rect width="3.6" height="3.4" fill="#000"/><circle cx="1.8" cy="1.7" r="1.5" fill="#fff"/></pattern><pattern id="hatch" width="6.0" height="6.0" patternUnits="userSpaceOnUse" patternTransform="rotate(-45)"><rect width="6.0" height="6.0" fill="#fff"/><rect x="0" y="0" width="3.3" height="6.0" fill="#000"/></pattern><pattern id="hatchL" width="5.0" height="5.0" patternUnits="userSpaceOnUse" patternTransform="rotate(-45)"><rect width="5.0" height="5.0" fill="#000"/><rect x="0" y="0" width="1.6" height="5.0" fill="#fff"/></pattern></defs>
<rect x="34.90" y="508.30" width="7.70" height="83.70" fill="url(#dots)" stroke="#000" stroke-width="0.9"/><rect x="42.60" y="507.20" width="8.70" height="84.80" fill="url(#hatch)" stroke="#000" stroke-width="0.9"/><rect x="51.30" y="509.70" width="6.30" height="82.30" fill="#fff" stroke="#000" stroke-width="0.9"/><rect x="57.60" y="507.90" width="8.20" height="84.10" fill="#000" stroke="#000" stroke-width="0.9"/><rect x="76.75" y="413.90" width="7.70" height="178.10" fill="url(#dots)" stroke="#000" stroke-width="0.9"/><rect x="84.45" y="413.90" width="8.70" height="178.10" fill="url(#hatch)" stroke="#000" stroke-width="0.9"/><rect x="93.15" y="413.90" width="6.30" height="178.10" fill="#fff" stroke="#000" stroke-width="0.9"/><rect x="99.45" y="413.90" width="8.20" height="178.10" fill="#000" stroke="#000" stroke-width="0.9"/><rect x="118.60" y="479.60" width="7.70" height="112.40" fill="url(#dots)" stroke="#000" stroke-width="0.9"/><rect x="126.30" y="481.80" width="8.70" height="110.20" fill="url(#hatch)" stroke="#000" stroke-width="0.9"/><rect x="135.00" y="482.40" width="6.30" height="109.60" fill="#fff" stroke="#000" stroke-width="0.9"/><rect x="141.30" y="482.10" width="8.20" height="109.90" fill="#000" stroke="#000" stroke-width="0.9"/><rect x="160.45" y="571.50" width="7.70" height="20.50" fill="url(#dots)" stroke="#000" stroke-width="0.9"/><rect x="168.15" y="571.50" width="8.70" height="20.50" fill="url(#hatch)" stroke="#000" stroke-width="0.9"/><rect x="176.85" y="571.50" width="6.30" height="20.50" fill="#fff" stroke="#000" stroke-width="0.9"/><rect x="183.15" y="571.50" width="8.20" height="20.50" fill="#000" stroke="#000" stroke-width="0.9"/><rect x="202.30" y="552.40" width="7.70" height="39.60" fill="url(#dots)" stroke="#000" stroke-width="0.9"/><rect x="210.00" y="552.40" width="8.70" height="39.60" fill="url(#hatch)" stroke="#000" stroke-width="0.9"/><rect x="218.70" y="552.40" width="6.30" height="39.60" fill="#fff" stroke="#000" stroke-width="0.9"/><rect x="225.00" y="552.40" width="8.20" height="39.60" fill="#000" stroke="#000" stroke-width="0.9"/><rect x="244.15" y="582.20" width="7.70" height="9.80" fill="url(#dots)" stroke="#000" stroke-width="0.9"/><rect x="251.85" y="582.20" width="8.70" height="9.80" fill="url(#hatch)" stroke="#000" stroke-width="0.9"/><rect x="260.55" y="582.20" width="6.30" height="9.80" fill="#fff" stroke="#000" stroke-width="0.9"/><rect x="266.85" y="582.20" width="8.20" height="9.80" fill="#000" stroke="#000" stroke-width="0.9"/><rect x="286.00" y="581.50" width="7.70" height="10.50" fill="url(#dots)" stroke="#000" stroke-width="0.9"/><rect x="293.70" y="581.50" width="8.70" height="10.50" fill="url(#hatch)" stroke="#000" stroke-width="0.9"/><rect x="302.40" y="581.50" width="6.30" height="10.50" fill="#fff" stroke="#000" stroke-width="0.9"/><rect x="308.70" y="581.50" width="8.20" height="10.50" fill="#000" stroke="#000" stroke-width="0.9"/><rect x="327.85" y="521.50" width="7.70" height="70.50" fill="url(#dots)" stroke="#000" stroke-width="0.9"/><rect x="335.55" y="524.80" width="8.70" height="67.20" fill="url(#hatch)" stroke="#000" stroke-width="0.9"/><rect x="344.25" y="525.30" width="6.30" height="66.70" fill="#fff" stroke="#000" stroke-width="0.9"/><rect x="350.55" y="524.50" width="8.20" height="67.50" fill="#000" stroke="#000" stroke-width="0.9"/><rect x="369.70" y="589.30" width="7.70" height="2.70" fill="url(#dots)" stroke="#000" stroke-width="0.9"/><rect x="377.40" y="589.30" width="8.70" height="2.70" fill="url(#hatch)" stroke="#000" stroke-width="0.9"/><rect x="386.10" y="589.30" width="6.30" height="2.70" fill="#fff" stroke="#000" stroke-width="0.9"/><rect x="392.40" y="589.30" width="8.20" height="2.70" fill="#000" stroke="#000" stroke-width="0.9"/><rect x="411.55" y="589.50" width="7.70" height="2.50" fill="url(#dots)" stroke="#000" stroke-width="0.9"/><rect x="419.25" y="589.50" width="8.70" height="2.50" fill="url(#hatch)" stroke="#000" stroke-width="0.9"/><rect x="427.95" y="589.50" width="6.30" height="2.50" fill="#fff" stroke="#000" stroke-width="0.9"/><rect x="434.25" y="589.50" width="8.20" height="2.50" fill="#000" stroke="#000" stroke-width="0.9"/><rect x="453.40" y="588.20" width="7.70" height="3.80" fill="url(#dots)" stroke="#000" stroke-width="0.9"/><rect x="461.10" y="588.20" width="8.70" height="3.80" fill="url(#hatch)" stroke="#000" stroke-width="0.9"/><rect x="469.80" y="588.20" width="6.30" height="3.80" fill="#fff" stroke="#000" stroke-width="0.9"/><rect x="476.10" y="588.20" width="8.20" height="3.80" fill="#000" stroke="#000" stroke-width="0.9"/><rect x="495.25" y="583.10" width="7.70" height="8.90" fill="url(#dots)" stroke="#000" stroke-width="0.9"/><rect x="502.95" y="583.10" width="8.70" height="8.90" fill="url(#hatch)" stroke="#000" stroke-width="0.9"/><rect x="511.65" y="583.10" width="6.30" height="8.90" fill="#fff" stroke="#000" stroke-width="0.9"/><rect x="517.95" y="583.10" width="8.20" height="8.90" fill="#000" stroke="#000" stroke-width="0.9"/><rect x="537.10" y="585.40" width="7.70" height="6.60" fill="url(#dots)" stroke="#000" stroke-width="0.9"/><rect x="544.80" y="585.40" width="8.70" height="6.60" fill="url(#hatch)" stroke="#000" stroke-width="0.9"/><rect x="553.50" y="585.40" width="6.30" height="6.60" fill="#fff" stroke="#000" stroke-width="0.9"/><rect x="559.80" y="585.40" width="8.20" height="6.60" fill="#000" stroke="#000" stroke-width="0.9"/><rect x="578.95" y="590.50" width="7.70" height="1.50" fill="url(#dots)" stroke="#000" stroke-width="0.9"/><rect x="586.65" y="590.50" width="8.70" height="1.50" fill="url(#hatch)" stroke="#000" stroke-width="0.9"/><rect x="595.35" y="590.50" width="6.30" height="1.50" fill="#fff" stroke="#000" stroke-width="0.9"/><rect x="601.65" y="590.50" width="8.20" height="1.50" fill="#000" stroke="#000" stroke-width="0.9"/><rect x="620.80" y="590.40" width="7.70" height="1.60" fill="url(#dots)" stroke="#000" stroke-width="0.9"/><rect x="628.50" y="590.40" width="8.70" height="1.60" fill="url(#hatch)" stroke="#000" stroke-width="0.9"/><rect x="637.20" y="590.40" width="6.30" height="1.60" fill="#fff" stroke="#000" stroke-width="0.9"/><rect x="643.50" y="590.40" width="8.20" height="1.60" fill="#000" stroke="#000" stroke-width="0.9"/><rect x="662.65" y="590.20" width="7.70" height="1.80" fill="url(#dots)" stroke="#000" stroke-width="0.9"/><rect x="670.35" y="590.20" width="8.70" height="1.80" fill="url(#hatch)" stroke="#000" stroke-width="0.9"/><rect x="679.05" y="590.20" width="6.30" height="1.80" fill="#fff" stroke="#000" stroke-width="0.9"/><rect x="685.35" y="590.20" width="8.20" height="1.80" fill="#000" stroke="#000" stroke-width="0.9"/><rect x="704.50" y="590.60" width="7.70" height="1.40" fill="url(#dots)" stroke="#000" stroke-width="0.9"/><rect x="712.20" y="590.60" width="8.70" height="1.40" fill="url(#hatch)" stroke="#000" stroke-width="0.9"/><rect x="720.90" y="590.60" width="6.30" height="1.40" fill="#fff" stroke="#000" stroke-width="0.9"/><rect x="727.20" y="590.60" width="8.20" height="1.40" fill="#000" stroke="#000" stroke-width="0.9"/><rect x="746.35" y="588.80" width="7.70" height="3.20" fill="url(#dots)" stroke="#000" stroke-width="0.9"/><rect x="754.05" y="588.80" width="8.70" height="3.20" fill="url(#hatch)" stroke="#000" stroke-width="0.9"/><rect x="762.75" y="588.80" width="6.30" height="3.20" fill="#fff" stroke="#000" stroke-width="0.9"/><rect x="769.05" y="588.80" width="8.20" height="3.20" fill="#000" stroke="#000" stroke-width="0.9"/>
<path d="M44.15,506.3H49.75M46.95,506.3V508.3M58.90,507.0H64.50M61.70,507.0V509.0M127.85,480.2H133.45M130.65,480.2V482.2M142.60,480.2H148.20M145.40,480.2V482.2M344.60,521.9H350.20M347.40,521.9V523.9M351.85,521.9H357.45M354.65,521.9V523.9M328.90,520.6H334.50M331.70,520.6V522.6" stroke="#000" stroke-width="0.9" fill="none"/>
<path d="M26.5,592.2H783.6 M29.50,592.2V594.8 M71.35,592.2V594.8 M113.20,592.2V594.8 M155.05,592.2V594.8 M196.90,592.2V594.8 M238.75,592.2V594.8 M280.60,592.2V594.8 M322.45,592.2V594.8 M364.30,592.2V594.8 M406.15,592.2V594.8 M448.00,592.2V594.8 M489.85,592.2V594.8 M531.70,592.2V594.8 M573.55,592.2V594.8 M615.40,592.2V594.8 M657.25,592.2V594.8 M699.10,592.2V594.8 M740.95,592.2V594.8 M782.80,592.2V594.8" stroke="#000" stroke-width="1"/>
<rect x="624.6" y="413.4" width="158.3" height="71.5" fill="#fff" stroke="#333" stroke-width="1"/>
<rect x="636.9" y="418.5" width="12" height="8.2" fill="url(#dotsL)" stroke="#000" stroke-width="1.5"/>
<rect x="636.9" y="436.7" width="12" height="7.8" fill="url(#hatchL)" stroke="#000" stroke-width="1.5"/>
<rect x="636.9" y="455.4" width="12" height="7.4" fill="#fff" stroke="#000" stroke-width="1.5"/>
<rect x="636.9" y="472.9" width="12" height="7.4" fill="#000" stroke="#000" stroke-width="1.5"/>
<text x="655.3" y="429.8" font-size="11" font-weight="normal" text-anchor="start" fill="#2a2a2a" textLength="109.7" lengthAdjust="spacingAndGlyphs" >Average preparation 1</text>
<text x="655.7" y="447" font-size="11" font-weight="normal" text-anchor="start" fill="#2a2a2a" textLength="111.4" lengthAdjust="spacingAndGlyphs" >Average preparation 2</text>
<text x="655.7" y="465.5" font-size="11" font-weight="normal" text-anchor="start" fill="#2a2a2a" textLength="111.4" lengthAdjust="spacingAndGlyphs" >Average preparation 3</text>
<text x="656.1" y="482.8" font-size="11" font-weight="normal" text-anchor="start" fill="#2a2a2a" textLength="121.5" lengthAdjust="spacingAndGlyphs" >Average all preparations</text>
<text x="32.8" y="609.4" font-size="10.8" font-weight="normal" text-anchor="start" fill="#2a2a2a" textLength="22.4" lengthAdjust="spacingAndGlyphs" >G0F</text>
<text x="75.4" y="609.4" font-size="10.8" font-weight="normal" text-anchor="start" fill="#2a2a2a" textLength="22.3" lengthAdjust="spacingAndGlyphs" >G1F</text>
<text x="118" y="609.4" font-size="10.8" font-weight="normal" text-anchor="start" fill="#2a2a2a" textLength="22.2" lengthAdjust="spacingAndGlyphs" >G2F</text>
<text x="158.7" y="609.4" font-size="10.8" font-weight="normal" text-anchor="start" fill="#2a2a2a" textLength="29.6" lengthAdjust="spacingAndGlyphs" >G0FN</text>
<text x="200.2" y="609.4" font-size="10.8" font-weight="normal" text-anchor="start" fill="#2a2a2a" textLength="29.2" lengthAdjust="spacingAndGlyphs" >G1FN</text>
<text x="242.6" y="609.4" font-size="10.8" font-weight="normal" text-anchor="start" fill="#2a2a2a" textLength="28.5" lengthAdjust="spacingAndGlyphs" >G2FN</text>
<text x="285.2" y="609.4" font-size="10.8" font-weight="normal" text-anchor="start" fill="#2a2a2a" textLength="28.8" lengthAdjust="spacingAndGlyphs" >G1FS</text>
<text x="328.5" y="609.4" font-size="10.8" font-weight="normal" text-anchor="start" fill="#2a2a2a" textLength="28.2" lengthAdjust="spacingAndGlyphs" >G2FS</text>
<text x="368.9" y="609.4" font-size="10.8" font-weight="normal" text-anchor="start" fill="#2a2a2a" textLength="37.0" lengthAdjust="spacingAndGlyphs" >G1FNS</text>
<text x="410.2" y="609.4" font-size="10.8" font-weight="normal" text-anchor="start" fill="#2a2a2a" textLength="37.2" lengthAdjust="spacingAndGlyphs" >G2FNS</text>
<text x="460.6" y="609.4" font-size="10.8" font-weight="normal" text-anchor="start" fill="#2a2a2a" textLength="14.8" lengthAdjust="spacingAndGlyphs" >G0</text>
<text x="504" y="609.4" font-size="10.8" font-weight="normal" text-anchor="start" fill="#2a2a2a" textLength="14" lengthAdjust="spacingAndGlyphs" >G1</text>
<text x="546.2" y="609.4" font-size="10.8" font-weight="normal" text-anchor="start" fill="#2a2a2a" textLength="15.3" lengthAdjust="spacingAndGlyphs" >G2</text>
<text x="583.6" y="609.4" font-size="10.8" font-weight="normal" text-anchor="start" fill="#2a2a2a" textLength="22.7" lengthAdjust="spacingAndGlyphs" >G0N</text>
<text x="626.8" y="609.4" font-size="10.8" font-weight="normal" text-anchor="start" fill="#2a2a2a" textLength="23.4" lengthAdjust="spacingAndGlyphs" >G1N</text>
<text x="669" y="609.4" font-size="10.8" font-weight="normal" text-anchor="start" fill="#2a2a2a" textLength="23.4" lengthAdjust="spacingAndGlyphs" >G2N</text>
<text x="712.6" y="609.4" font-size="10.8" font-weight="normal" text-anchor="start" fill="#2a2a2a" textLength="22.7" lengthAdjust="spacingAndGlyphs" >G1S</text>
<text x="756.4" y="609.4" font-size="10.8" font-weight="normal" text-anchor="start" fill="#2a2a2a" textLength="22.5" lengthAdjust="spacingAndGlyphs" >G2S</text>
<path d="M46.099999999999994,618.4000000000001V649.7 M46.099999999999994,627.7H35.099999999999994 M46.099999999999994,649.7L35.74999999999999,660.7 M35.74999999999999,660.7V671.7 M46.099999999999994,649.7L56.449999999999996,660.7 M56.449999999999996,660.7V671.7" stroke="#000" stroke-width="1.3" fill="none"/><g stroke="#000" stroke-width="1.1"><path d="M32.40,627.7L37.60,625.2L37.60,630.2Z" fill="#e00000" stroke-width="1.5"/><rect x="43.35" y="624.95" width="5.5" height="5.5" fill="#0000ff"/><rect x="43.35" y="635.95" width="5.5" height="5.5" fill="#0000ff"/><circle cx="46.10" cy="649.70" r="2.7" fill="#00c800"/><circle cx="35.75" cy="660.70" r="2.7" fill="#00c800"/><rect x="33.00" y="668.95" width="5.5" height="5.5" fill="#0000ff"/><circle cx="56.45" cy="660.70" r="2.7" fill="#00c800"/><rect x="53.70" y="668.95" width="5.5" height="5.5" fill="#0000ff"/></g><text x="34.1" y="623.6" font-size="11" fill="#333">pep</text>
<path d="M89.3,618.4000000000001V649.7 M89.3,627.7H78.3 M89.3,649.7L78.95,660.7 M78.95,660.7V682.7 M89.3,649.7L99.64999999999999,660.7 M99.64999999999999,660.7V671.7" stroke="#000" stroke-width="1.3" fill="none"/><g stroke="#000" stroke-width="1.1"><path d="M75.60,627.7L80.80,625.2L80.80,630.2Z" fill="#e00000" stroke-width="1.5"/><rect x="86.55" y="624.95" width="5.5" height="5.5" fill="#0000ff"/><rect x="86.55" y="635.95" width="5.5" height="5.5" fill="#0000ff"/><circle cx="89.30" cy="649.70" r="2.7" fill="#00c800"/><circle cx="78.95" cy="660.70" r="2.7" fill="#00c800"/><rect x="76.20" y="668.95" width="5.5" height="5.5" fill="#0000ff"/><circle cx="78.95" cy="682.70" r="2.7" fill="#ffff00"/><circle cx="99.65" cy="660.70" r="2.7" fill="#00c800"/><rect x="96.90" y="668.95" width="5.5" height="5.5" fill="#0000ff"/></g><text x="77.2" y="623.6" font-size="11" fill="#333">pep</text>
<path d="M130.20000000000002,618.4000000000001V649.7 M130.20000000000002,627.7H119.20000000000002 M130.20000000000002,649.7L119.85000000000002,660.7 M119.85000000000002,660.7V682.7 M130.20000000000002,649.7L140.55,660.7 M140.55,660.7V682.7" stroke="#000" stroke-width="1.3" fill="none"/><g stroke="#000" stroke-width="1.1"><path d="M116.50,627.7L121.70,625.2L121.70,630.2Z" fill="#e00000" stroke-width="1.5"/><rect x="127.45" y="624.95" width="5.5" height="5.5" fill="#0000ff"/><rect x="127.45" y="635.95" width="5.5" height="5.5" fill="#0000ff"/><circle cx="130.20" cy="649.70" r="2.7" fill="#00c800"/><circle cx="119.85" cy="660.70" r="2.7" fill="#00c800"/><rect x="117.10" y="668.95" width="5.5" height="5.5" fill="#0000ff"/><circle cx="119.85" cy="682.70" r="2.7" fill="#ffff00"/><circle cx="140.55" cy="660.70" r="2.7" fill="#00c800"/><rect x="137.80" y="668.95" width="5.5" height="5.5" fill="#0000ff"/><circle cx="140.55" cy="682.70" r="2.7" fill="#ffff00"/></g><text x="119.1" y="623.6" font-size="11" fill="#333">pep</text>
<path d="M171.8,618.4000000000001V649.7 M171.8,627.7H160.8 M171.8,649.7L161.45000000000002,660.7 M161.45000000000002,660.7V671.7 M171.8,649.7L182.15,660.7 M182.15,660.7V671.7 M171.8,649.7V666.2" stroke="#000" stroke-width="1.3" fill="none"/><g stroke="#000" stroke-width="1.1"><path d="M158.10,627.7L163.30,625.2L163.30,630.2Z" fill="#e00000" stroke-width="1.5"/><rect x="169.05" y="624.95" width="5.5" height="5.5" fill="#0000ff"/><rect x="169.05" y="635.95" width="5.5" height="5.5" fill="#0000ff"/><circle cx="171.80" cy="649.70" r="2.7" fill="#00c800"/><rect x="169.05" y="663.45" width="5.5" height="5.5" fill="#0000ff"/><circle cx="161.45" cy="660.70" r="2.7" fill="#00c800"/><rect x="158.70" y="668.95" width="5.5" height="5.5" fill="#0000ff"/><circle cx="182.15" cy="660.70" r="2.7" fill="#00c800"/><rect x="179.40" y="668.95" width="5.5" height="5.5" fill="#0000ff"/></g><text x="161.3" y="623.6" font-size="11" fill="#333">pep</text>
<path d="M213.3,618.4000000000001V649.7 M213.3,627.7H202.3 M213.3,649.7L202.95000000000002,660.7 M202.95000000000002,660.7V682.7 M213.3,649.7L223.65,660.7 M223.65,660.7V671.7 M213.3,649.7V666.2" stroke="#000" stroke-width="1.3" fill="none"/><g stroke="#000" stroke-width="1.1"><path d="M199.60,627.7L204.80,625.2L204.80,630.2Z" fill="#e00000" stroke-width="1.5"/><rect x="210.55" y="624.95" width="5.5" height="5.5" fill="#0000ff"/><rect x="210.55" y="635.95" width="5.5" height="5.5" fill="#0000ff"/><circle cx="213.30" cy="649.70" r="2.7" fill="#00c800"/><rect x="210.55" y="663.45" width="5.5" height="5.5" fill="#0000ff"/><circle cx="202.95" cy="660.70" r="2.7" fill="#00c800"/><rect x="200.20" y="668.95" width="5.5" height="5.5" fill="#0000ff"/><circle cx="202.95" cy="682.70" r="2.7" fill="#ffff00"/><circle cx="223.65" cy="660.70" r="2.7" fill="#00c800"/><rect x="220.90" y="668.95" width="5.5" height="5.5" fill="#0000ff"/></g><text x="203.3" y="623.6" font-size="11" fill="#333">pep</text>
<path d="M254.4,618.4000000000001V649.7 M254.4,627.7H243.4 M254.4,649.7L244.05,660.7 M244.05,660.7V682.7 M254.4,649.7L264.75,660.7 M264.75,660.7V682.7 M254.4,649.7V666.2" stroke="#000" stroke-width="1.3" fill="none"/><g stroke="#000" stroke-width="1.1"><path d="M240.70,627.7L245.90,625.2L245.90,630.2Z" fill="#e00000" stroke-width="1.5"/><rect x="251.65" y="624.95" width="5.5" height="5.5" fill="#0000ff"/><rect x="251.65" y="635.95" width="5.5" height="5.5" fill="#0000ff"/><circle cx="254.40" cy="649.70" r="2.7" fill="#00c800"/><rect x="251.65" y="663.45" width="5.5" height="5.5" fill="#0000ff"/><circle cx="244.05" cy="660.70" r="2.7" fill="#00c800"/><rect x="241.30" y="668.95" width="5.5" height="5.5" fill="#0000ff"/><circle cx="244.05" cy="682.70" r="2.7" fill="#ffff00"/><circle cx="264.75" cy="660.70" r="2.7" fill="#00c800"/><rect x="262.00" y="668.95" width="5.5" height="5.5" fill="#0000ff"/><circle cx="264.75" cy="682.70" r="2.7" fill="#ffff00"/></g><text x="245.2" y="623.6" font-size="11" fill="#333">pep</text>
<path d="M297.90000000000003,618.4000000000001V649.7 M297.90000000000003,627.7H286.90000000000003 M297.90000000000003,649.7L287.55,660.7 M287.55,660.7V671.7 M297.90000000000003,649.7L308.25000000000006,660.7 M308.25000000000006,660.7V693.7" stroke="#000" stroke-width="1.3" fill="none"/><g stroke="#000" stroke-width="1.1"><path d="M284.20,627.7L289.40,625.2L289.40,630.2Z" fill="#e00000" stroke-width="1.5"/><rect x="295.15" y="624.95" width="5.5" height="5.5" fill="#0000ff"/><rect x="295.15" y="635.95" width="5.5" height="5.5" fill="#0000ff"/><circle cx="297.90" cy="649.70" r="2.7" fill="#00c800"/><circle cx="287.55" cy="660.70" r="2.7" fill="#00c800"/><rect x="284.80" y="668.95" width="5.5" height="5.5" fill="#0000ff"/><circle cx="308.25" cy="660.70" r="2.7" fill="#00c800"/><rect x="305.50" y="668.95" width="5.5" height="5.5" fill="#0000ff"/><circle cx="308.25" cy="682.70" r="2.7" fill="#ffff00"/><path d="M308.25000000000006,690.1L311.8500000000001,693.7L308.25000000000006,697.3000000000001L304.65000000000003,693.7Z" fill="#c000c0"/></g><text x="288.7" y="623.6" font-size="11" fill="#333">pep</text>
<path d="M339.8,618.4000000000001V649.7 M339.8,627.7H328.8 M339.8,649.7L329.45,660.7 M329.45,660.7V682.7 M339.8,649.7L350.15000000000003,660.7 M350.15000000000003,660.7V693.7" stroke="#000" stroke-width="1.3" fill="none"/><g stroke="#000" stroke-width="1.1"><path d="M326.10,627.7L331.30,625.2L331.30,630.2Z" fill="#e00000" stroke-width="1.5"/><rect x="337.05" y="624.95" width="5.5" height="5.5" fill="#0000ff"/><rect x="337.05" y="635.95" width="5.5" height="5.5" fill="#0000ff"/><circle cx="339.80" cy="649.70" r="2.7" fill="#00c800"/><circle cx="329.45" cy="660.70" r="2.7" fill="#00c800"/><rect x="326.70" y="668.95" width="5.5" height="5.5" fill="#0000ff"/><circle cx="329.45" cy="682.70" r="2.7" fill="#ffff00"/><circle cx="350.15" cy="660.70" r="2.7" fill="#00c800"/><rect x="347.40" y="668.95" width="5.5" height="5.5" fill="#0000ff"/><circle cx="350.15" cy="682.70" r="2.7" fill="#ffff00"/><path d="M350.15000000000003,690.1L353.75000000000006,693.7L350.15000000000003,697.3000000000001L346.55,693.7Z" fill="#c000c0"/></g><text x="331.3" y="623.6" font-size="11" fill="#333">pep</text>
<path d="M381.90000000000003,618.4000000000001V649.7 M381.90000000000003,627.7H370.90000000000003 M381.90000000000003,649.7L371.55,660.7 M371.55,660.7V671.7 M381.90000000000003,649.7L392.25000000000006,660.7 M392.25000000000006,660.7V693.7 M381.90000000000003,649.7V666.2" stroke="#000" stroke-width="1.3" fill="none"/><g stroke="#000" stroke-width="1.1"><path d="M368.20,627.7L373.40,625.2L373.40,630.2Z" fill="#e00000" stroke-width="1.5"/><rect x="379.15" y="624.95" width="5.5" height="5.5" fill="#0000ff"/><rect x="379.15" y="635.95" width="5.5" height="5.5" fill="#0000ff"/><circle cx="381.90" cy="649.70" r="2.7" fill="#00c800"/><rect x="379.15" y="663.45" width="5.5" height="5.5" fill="#0000ff"/><circle cx="371.55" cy="660.70" r="2.7" fill="#00c800"/><rect x="368.80" y="668.95" width="5.5" height="5.5" fill="#0000ff"/><circle cx="392.25" cy="660.70" r="2.7" fill="#00c800"/><rect x="389.50" y="668.95" width="5.5" height="5.5" fill="#0000ff"/><circle cx="392.25" cy="682.70" r="2.7" fill="#ffff00"/><path d="M392.25000000000006,690.1L395.8500000000001,693.7L392.25000000000006,697.3000000000001L388.65000000000003,693.7Z" fill="#c000c0"/></g><text x="374.0" y="623.6" font-size="11" fill="#333">pep</text>
<path d="M424.0,618.4000000000001V649.7 M424.0,627.7H413.0 M424.0,649.7L413.65,660.7 M413.65,660.7V682.7 M424.0,649.7L434.35,660.7 M434.35,660.7V693.7 M424.0,649.7V666.2" stroke="#000" stroke-width="1.3" fill="none"/><g stroke="#000" stroke-width="1.1"><path d="M410.30,627.7L415.50,625.2L415.50,630.2Z" fill="#e00000" stroke-width="1.5"/><rect x="421.25" y="624.95" width="5.5" height="5.5" fill="#0000ff"/><rect x="421.25" y="635.95" width="5.5" height="5.5" fill="#0000ff"/><circle cx="424.00" cy="649.70" r="2.7" fill="#00c800"/><rect x="421.25" y="663.45" width="5.5" height="5.5" fill="#0000ff"/><circle cx="413.65" cy="660.70" r="2.7" fill="#00c800"/><rect x="410.90" y="668.95" width="5.5" height="5.5" fill="#0000ff"/><circle cx="413.65" cy="682.70" r="2.7" fill="#ffff00"/><circle cx="434.35" cy="660.70" r="2.7" fill="#00c800"/><rect x="431.60" y="668.95" width="5.5" height="5.5" fill="#0000ff"/><circle cx="434.35" cy="682.70" r="2.7" fill="#ffff00"/><path d="M434.35,690.1L437.95000000000005,693.7L434.35,697.3000000000001L430.75,693.7Z" fill="#c000c0"/></g><text x="416.6" y="623.6" font-size="11" fill="#333">pep</text>
<path d="M465.1,618.4000000000001V649.7 M465.1,649.7L454.75,660.7 M454.75,660.7V671.7 M465.1,649.7L475.45000000000005,660.7 M475.45000000000005,660.7V671.7" stroke="#000" stroke-width="1.3" fill="none"/><g stroke="#000" stroke-width="1.1"><rect x="462.35" y="624.95" width="5.5" height="5.5" fill="#0000ff"/><rect x="462.35" y="635.95" width="5.5" height="5.5" fill="#0000ff"/><circle cx="465.10" cy="649.70" r="2.7" fill="#00c800"/><circle cx="454.75" cy="660.70" r="2.7" fill="#00c800"/><rect x="452.00" y="668.95" width="5.5" height="5.5" fill="#0000ff"/><circle cx="475.45" cy="660.70" r="2.7" fill="#00c800"/><rect x="472.70" y="668.95" width="5.5" height="5.5" fill="#0000ff"/></g><text x="459.2" y="623.6" font-size="11" fill="#333">pep</text>
<path d="M507.7,618.4000000000001V649.7 M507.7,649.7L497.34999999999997,660.7 M497.34999999999997,660.7V682.7 M507.7,649.7L518.05,660.7 M518.05,660.7V671.7" stroke="#000" stroke-width="1.3" fill="none"/><g stroke="#000" stroke-width="1.1"><rect x="504.95" y="624.95" width="5.5" height="5.5" fill="#0000ff"/><rect x="504.95" y="635.95" width="5.5" height="5.5" fill="#0000ff"/><circle cx="507.70" cy="649.70" r="2.7" fill="#00c800"/><circle cx="497.35" cy="660.70" r="2.7" fill="#00c800"/><rect x="494.60" y="668.95" width="5.5" height="5.5" fill="#0000ff"/><circle cx="497.35" cy="682.70" r="2.7" fill="#ffff00"/><circle cx="518.05" cy="660.70" r="2.7" fill="#00c800"/><rect x="515.30" y="668.95" width="5.5" height="5.5" fill="#0000ff"/></g><text x="501.9" y="623.6" font-size="11" fill="#333">pep</text>
<path d="M549.6999999999999,618.4000000000001V649.7 M549.6999999999999,649.7L539.3499999999999,660.7 M539.3499999999999,660.7V682.7 M549.6999999999999,649.7L560.05,660.7 M560.05,660.7V682.7" stroke="#000" stroke-width="1.3" fill="none"/><g stroke="#000" stroke-width="1.1"><rect x="546.95" y="624.95" width="5.5" height="5.5" fill="#0000ff"/><rect x="546.95" y="635.95" width="5.5" height="5.5" fill="#0000ff"/><circle cx="549.70" cy="649.70" r="2.7" fill="#00c800"/><circle cx="539.35" cy="660.70" r="2.7" fill="#00c800"/><rect x="536.60" y="668.95" width="5.5" height="5.5" fill="#0000ff"/><circle cx="539.35" cy="682.70" r="2.7" fill="#ffff00"/><circle cx="560.05" cy="660.70" r="2.7" fill="#00c800"/><rect x="557.30" y="668.95" width="5.5" height="5.5" fill="#0000ff"/><circle cx="560.05" cy="682.70" r="2.7" fill="#ffff00"/></g><text x="544.9" y="623.6" font-size="11" fill="#333">pep</text>
<path d="M589.5999999999999,618.4000000000001V649.7 M589.5999999999999,649.7L579.2499999999999,660.7 M579.2499999999999,660.7V671.7 M589.5999999999999,649.7L599.9499999999999,660.7 M599.9499999999999,660.7V671.7 M589.5999999999999,649.7V666.2" stroke="#000" stroke-width="1.3" fill="none"/><g stroke="#000" stroke-width="1.1"><rect x="586.85" y="624.95" width="5.5" height="5.5" fill="#0000ff"/><rect x="586.85" y="635.95" width="5.5" height="5.5" fill="#0000ff"/><circle cx="589.60" cy="649.70" r="2.7" fill="#00c800"/><rect x="586.85" y="663.45" width="5.5" height="5.5" fill="#0000ff"/><circle cx="579.25" cy="660.70" r="2.7" fill="#00c800"/><rect x="576.50" y="668.95" width="5.5" height="5.5" fill="#0000ff"/><circle cx="599.95" cy="660.70" r="2.7" fill="#00c800"/><rect x="597.20" y="668.95" width="5.5" height="5.5" fill="#0000ff"/></g><text x="585.5" y="623.6" font-size="11" fill="#333">pep</text>
<path d="M632.1999999999999,618.4000000000001V649.7 M632.1999999999999,649.7L621.8499999999999,660.7 M621.8499999999999,660.7V682.7 M632.1999999999999,649.7L642.55,660.7 M642.55,660.7V671.7 M632.1999999999999,649.7V666.2" stroke="#000" stroke-width="1.3" fill="none"/><g stroke="#000" stroke-width="1.1"><rect x="629.45" y="624.95" width="5.5" height="5.5" fill="#0000ff"/><rect x="629.45" y="635.95" width="5.5" height="5.5" fill="#0000ff"/><circle cx="632.20" cy="649.70" r="2.7" fill="#00c800"/><rect x="629.45" y="663.45" width="5.5" height="5.5" fill="#0000ff"/><circle cx="621.85" cy="660.70" r="2.7" fill="#00c800"/><rect x="619.10" y="668.95" width="5.5" height="5.5" fill="#0000ff"/><circle cx="621.85" cy="682.70" r="2.7" fill="#ffff00"/><circle cx="642.55" cy="660.70" r="2.7" fill="#00c800"/><rect x="639.80" y="668.95" width="5.5" height="5.5" fill="#0000ff"/></g><text x="628.2" y="623.6" font-size="11" fill="#333">pep</text>
<path d="M674.3,618.4000000000001V649.7 M674.3,649.7L663.9499999999999,660.7 M663.9499999999999,660.7V682.7 M674.3,649.7L684.65,660.7 M684.65,660.7V682.7 M674.3,649.7V666.2" stroke="#000" stroke-width="1.3" fill="none"/><g stroke="#000" stroke-width="1.1"><rect x="671.55" y="624.95" width="5.5" height="5.5" fill="#0000ff"/><rect x="671.55" y="635.95" width="5.5" height="5.5" fill="#0000ff"/><circle cx="674.30" cy="649.70" r="2.7" fill="#00c800"/><rect x="671.55" y="663.45" width="5.5" height="5.5" fill="#0000ff"/><circle cx="663.95" cy="660.70" r="2.7" fill="#00c800"/><rect x="661.20" y="668.95" width="5.5" height="5.5" fill="#0000ff"/><circle cx="663.95" cy="682.70" r="2.7" fill="#ffff00"/><circle cx="684.65" cy="660.70" r="2.7" fill="#00c800"/><rect x="681.90" y="668.95" width="5.5" height="5.5" fill="#0000ff"/><circle cx="684.65" cy="682.70" r="2.7" fill="#ffff00"/></g><text x="670.7" y="623.6" font-size="11" fill="#333">pep</text>
<path d="M716.8,618.4000000000001V649.7 M716.8,649.7L706.4499999999999,660.7 M706.4499999999999,660.7V671.7 M716.8,649.7L727.15,660.7 M727.15,660.7V693.7" stroke="#000" stroke-width="1.3" fill="none"/><g stroke="#000" stroke-width="1.1"><rect x="714.05" y="624.95" width="5.5" height="5.5" fill="#0000ff"/><rect x="714.05" y="635.95" width="5.5" height="5.5" fill="#0000ff"/><circle cx="716.80" cy="649.70" r="2.7" fill="#00c800"/><circle cx="706.45" cy="660.70" r="2.7" fill="#00c800"/><rect x="703.70" y="668.95" width="5.5" height="5.5" fill="#0000ff"/><circle cx="727.15" cy="660.70" r="2.7" fill="#00c800"/><rect x="724.40" y="668.95" width="5.5" height="5.5" fill="#0000ff"/><circle cx="727.15" cy="682.70" r="2.7" fill="#ffff00"/><path d="M727.15,690.1L730.75,693.7L727.15,697.3000000000001L723.55,693.7Z" fill="#c000c0"/></g><text x="713.8" y="623.6" font-size="11" fill="#333">pep</text>
<path d="M760.0,618.4000000000001V649.7 M760.0,649.7L749.65,660.7 M749.65,660.7V682.7 M760.0,649.7L770.35,660.7 M770.35,660.7V693.7" stroke="#000" stroke-width="1.3" fill="none"/><g stroke="#000" stroke-width="1.1"><rect x="757.25" y="624.95" width="5.5" height="5.5" fill="#0000ff"/><rect x="757.25" y="635.95" width="5.5" height="5.5" fill="#0000ff"/><circle cx="760.00" cy="649.70" r="2.7" fill="#00c800"/><circle cx="749.65" cy="660.70" r="2.7" fill="#00c800"/><rect x="746.90" y="668.95" width="5.5" height="5.5" fill="#0000ff"/><circle cx="749.65" cy="682.70" r="2.7" fill="#ffff00"/><circle cx="770.35" cy="660.70" r="2.7" fill="#00c800"/><rect x="767.60" y="668.95" width="5.5" height="5.5" fill="#0000ff"/><circle cx="770.35" cy="682.70" r="2.7" fill="#ffff00"/><path d="M770.35,690.1L773.95,693.7L770.35,697.3000000000001L766.75,693.7Z" fill="#c000c0"/></g><text x="756.9" y="623.6" font-size="11" fill="#333">pep</text>
</svg></body></html>
